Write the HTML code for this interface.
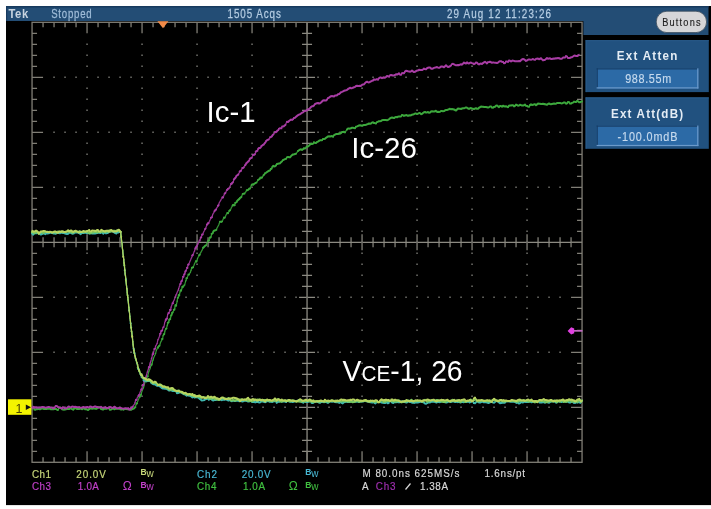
<!DOCTYPE html>
<html><head><meta charset="utf-8"><title>Scope</title>
<style>html,body{margin:0;padding:0;background:#fff;overflow:hidden}svg{display:block}</style>
</head><body>
<svg width="711" height="509" viewBox="0 0 711 509" font-family="Liberation Sans, Arial, sans-serif">
<rect width="711" height="509" fill="#ffffff"/>
<rect x="6.0" y="6.0" width="705" height="499.1" fill="#000"/>
<!-- top bar -->
<path d="M6 6H708.5V35H583.4V21H6Z" fill="#234d75"/>
<rect x="6" y="6.0" width="702.5" height="1.5" fill="#173a5e"/><rect x="6" y="6.0" width="1.2" height="15" fill="#173a5e"/>
<text transform="translate(8.4 17.8) scale(0.9 1)" x="0" y="0" font-size="12.5" fill="#c8d4e0" font-weight="bold" textLength="22.00" lengthAdjust="spacing" >Tek</text>
<text transform="translate(51.2 17.8) scale(0.8 1)" x="0" y="0" font-size="12" fill="#9fbcd8" font-weight="normal" stroke="#9fbcd8" stroke-width="0.25" textLength="50.50" lengthAdjust="spacing" >Stopped</text>
<text transform="translate(227.6 17.9) scale(0.82 1)" x="0" y="0" font-size="12" fill="#b4cce2" font-weight="normal" stroke="#b4cce2" stroke-width="0.25" textLength="64.88" lengthAdjust="spacing" >1505 Acqs</text>
<text transform="translate(447 17.8) scale(0.82 1)" x="0" y="0" font-size="12" fill="#b4cce2" font-weight="normal" stroke="#b4cce2" stroke-width="0.25" textLength="126.83" lengthAdjust="spacing" >29 Aug 12 11:23:26</text>
<!-- Buttons pill -->
<rect x="656.2" y="11.2" width="50.4" height="21.4" rx="10.7" fill="#d6d6d8" stroke="#3a4a5a" stroke-width="0.8"/>
<text transform="translate(662.2 26.4) scale(0.8 1)" x="0" y="0" font-size="11.5" fill="#1e1e1e" font-weight="normal" stroke="#1e1e1e" stroke-width="0.15" textLength="48.00" lengthAdjust="spacing" >Buttons</text>
<!-- panels -->
<rect x="585.6" y="40.2" width="123.2" height="51.9" fill="#21517f"/>
<rect x="585.6" y="40.2" width="123.2" height="1" fill="#2a5c8c"/>
<rect x="585.6" y="40.2" width="1" height="51.9" fill="#2a5c8c"/>
<text transform="translate(616.8 60.2) scale(0.86 1)" x="0" y="0" font-size="13.5" fill="#e4ecf4" font-weight="bold" textLength="70.47" lengthAdjust="spacing" >Ext Atten</text>
<rect x="596.6" y="68.3" width="101.8" height="20.2" fill="#2c6aa6"/>
<rect x="596.6" y="68.3" width="101.8" height="1.2" fill="#173e66"/>
<rect x="596.6" y="68.3" width="1.2" height="20.2" fill="#173e66"/>
<rect x="596.6" y="87.3" width="101.8" height="1.2" fill="#6b9acb"/>
<rect x="697.2" y="68.3" width="1.2" height="20.2" fill="#6b9acb"/>
<text transform="translate(625.2 83.2) scale(0.8 1)" x="0" y="0" font-size="13.5" fill="#c6daee" font-weight="normal" stroke="#c6daee" stroke-width="0.2" textLength="57.50" lengthAdjust="spacing" >988.55m</text>
<rect x="585.6" y="97.4" width="123.2" height="51.4" fill="#21517f"/>
<rect x="585.6" y="97.4" width="123.2" height="1" fill="#2a5c8c"/>
<rect x="585.6" y="97.4" width="1" height="51.4" fill="#2a5c8c"/>
<text transform="translate(611 117.7) scale(0.86 1)" x="0" y="0" font-size="13.5" fill="#e4ecf4" font-weight="bold" textLength="83.84" lengthAdjust="spacing" >Ext Att(dB)</text>
<rect x="596.6" y="125.5" width="101.8" height="20.6" fill="#2c6aa6"/>
<rect x="596.6" y="125.5" width="101.8" height="1.2" fill="#173e66"/>
<rect x="596.6" y="125.5" width="1.2" height="20.6" fill="#173e66"/>
<rect x="596.6" y="144.9" width="101.8" height="1.2" fill="#6b9acb"/>
<rect x="697.2" y="125.5" width="1.2" height="20.6" fill="#6b9acb"/>
<text transform="translate(617.6 140.7) scale(0.8 1)" x="0" y="0" font-size="13.5" fill="#c6daee" font-weight="normal" stroke="#c6daee" stroke-width="0.2" textLength="74.75" lengthAdjust="spacing" >-100.0mdB</text>
<!-- graticule -->
<rect x="32.05" y="22.3" width="550.0" height="440.0" fill="none" stroke="#807e76" stroke-width="1.3"/>
<line x1="32.05" y1="242.3" x2="582.05" y2="242.3" stroke="#8c8a82" stroke-width="1.3"/>
<line x1="307.05" y1="22.3" x2="307.05" y2="462.3" stroke="#8c8a82" stroke-width="1.3"/>
<path d="M43.05 237.3v10M54.05 237.3v10M65.05 237.3v10M76.05 237.3v10M87.05 234.3v16M98.05 237.3v10M109.05 237.3v10M120.05 237.3v10M131.05 237.3v10M142.05 234.3v16M153.05 237.3v10M164.05 237.3v10M175.05 237.3v10M186.05 237.3v10M197.05 234.3v16M208.05 237.3v10M219.05 237.3v10M230.05 237.3v10M241.05 237.3v10M252.05 234.3v16M263.05 237.3v10M274.05 237.3v10M285.05 237.3v10M296.05 237.3v10M318.05 237.3v10M329.05 237.3v10M340.05 237.3v10M351.05 237.3v10M362.05 234.3v16M373.05 237.3v10M384.05 237.3v10M395.05 237.3v10M406.05 237.3v10M417.05 234.3v16M428.05 237.3v10M439.05 237.3v10M450.05 237.3v10M461.05 237.3v10M472.05 234.3v16M483.05 237.3v10M494.05 237.3v10M505.05 237.3v10M516.05 237.3v10M527.05 234.3v16M538.05 237.3v10M549.05 237.3v10M560.05 237.3v10M571.05 237.3v10M302.05 33.30h10M302.05 44.30h10M302.05 55.30h10M302.05 66.30h10M299.05 77.30h16M302.05 88.30h10M302.05 99.30h10M302.05 110.30h10M302.05 121.30h10M299.05 132.30h16M302.05 143.30h10M302.05 154.30h10M302.05 165.30h10M302.05 176.30h10M299.05 187.30h16M302.05 198.30h10M302.05 209.30h10M302.05 220.30h10M302.05 231.30h10M302.05 253.30h10M302.05 264.30h10M302.05 275.30h10M302.05 286.30h10M299.05 297.30h16M302.05 308.30h10M302.05 319.30h10M302.05 330.30h10M302.05 341.30h10M299.05 352.30h16M302.05 363.30h10M302.05 374.30h10M302.05 385.30h10M302.05 396.30h10M299.05 407.30h16M302.05 418.30h10M302.05 429.30h10M302.05 440.30h10M302.05 451.30h10" stroke="#8c8a82" stroke-width="1.2" fill="none"/>
<path d="M43.05 22.3v5M43.05 462.3v-5M54.05 22.3v5M54.05 462.3v-5M65.05 22.3v5M65.05 462.3v-5M76.05 22.3v5M76.05 462.3v-5M87.05 22.3v11M87.05 462.3v-11M98.05 22.3v5M98.05 462.3v-5M109.05 22.3v5M109.05 462.3v-5M120.05 22.3v5M120.05 462.3v-5M131.05 22.3v5M131.05 462.3v-5M142.05 22.3v11M142.05 462.3v-11M153.05 22.3v5M153.05 462.3v-5M164.05 22.3v5M164.05 462.3v-5M175.05 22.3v5M175.05 462.3v-5M186.05 22.3v5M186.05 462.3v-5M197.05 22.3v11M197.05 462.3v-11M208.05 22.3v5M208.05 462.3v-5M219.05 22.3v5M219.05 462.3v-5M230.05 22.3v5M230.05 462.3v-5M241.05 22.3v5M241.05 462.3v-5M252.05 22.3v11M252.05 462.3v-11M263.05 22.3v5M263.05 462.3v-5M274.05 22.3v5M274.05 462.3v-5M285.05 22.3v5M285.05 462.3v-5M296.05 22.3v5M296.05 462.3v-5M307.05 22.3v11M307.05 462.3v-11M318.05 22.3v5M318.05 462.3v-5M329.05 22.3v5M329.05 462.3v-5M340.05 22.3v5M340.05 462.3v-5M351.05 22.3v5M351.05 462.3v-5M362.05 22.3v11M362.05 462.3v-11M373.05 22.3v5M373.05 462.3v-5M384.05 22.3v5M384.05 462.3v-5M395.05 22.3v5M395.05 462.3v-5M406.05 22.3v5M406.05 462.3v-5M417.05 22.3v11M417.05 462.3v-11M428.05 22.3v5M428.05 462.3v-5M439.05 22.3v5M439.05 462.3v-5M450.05 22.3v5M450.05 462.3v-5M461.05 22.3v5M461.05 462.3v-5M472.05 22.3v11M472.05 462.3v-11M483.05 22.3v5M483.05 462.3v-5M494.05 22.3v5M494.05 462.3v-5M505.05 22.3v5M505.05 462.3v-5M516.05 22.3v5M516.05 462.3v-5M527.05 22.3v11M527.05 462.3v-11M538.05 22.3v5M538.05 462.3v-5M549.05 22.3v5M549.05 462.3v-5M560.05 22.3v5M560.05 462.3v-5M571.05 22.3v5M571.05 462.3v-5M32.05 33.30h5M582.05 33.30h-5M32.05 44.30h5M582.05 44.30h-5M32.05 55.30h5M582.05 55.30h-5M32.05 66.30h5M582.05 66.30h-5M32.05 77.30h11M582.05 77.30h-11M32.05 88.30h5M582.05 88.30h-5M32.05 99.30h5M582.05 99.30h-5M32.05 110.30h5M582.05 110.30h-5M32.05 121.30h5M582.05 121.30h-5M32.05 132.30h11M582.05 132.30h-11M32.05 143.30h5M582.05 143.30h-5M32.05 154.30h5M582.05 154.30h-5M32.05 165.30h5M582.05 165.30h-5M32.05 176.30h5M582.05 176.30h-5M32.05 187.30h11M582.05 187.30h-11M32.05 198.30h5M582.05 198.30h-5M32.05 209.30h5M582.05 209.30h-5M32.05 220.30h5M582.05 220.30h-5M32.05 231.30h5M582.05 231.30h-5M32.05 242.30h11M582.05 242.30h-11M32.05 253.30h5M582.05 253.30h-5M32.05 264.30h5M582.05 264.30h-5M32.05 275.30h5M582.05 275.30h-5M32.05 286.30h5M582.05 286.30h-5M32.05 297.30h11M582.05 297.30h-11M32.05 308.30h5M582.05 308.30h-5M32.05 319.30h5M582.05 319.30h-5M32.05 330.30h5M582.05 330.30h-5M32.05 341.30h5M582.05 341.30h-5M32.05 352.30h11M582.05 352.30h-11M32.05 363.30h5M582.05 363.30h-5M32.05 374.30h5M582.05 374.30h-5M32.05 385.30h5M582.05 385.30h-5M32.05 396.30h5M582.05 396.30h-5M32.05 407.30h11M582.05 407.30h-11M32.05 418.30h5M582.05 418.30h-5M32.05 429.30h5M582.05 429.30h-5M32.05 440.30h5M582.05 440.30h-5M32.05 451.30h5M582.05 451.30h-5" stroke="#807e76" stroke-width="1.3" fill="none"/>
<path d="M86.25 43.50h1.6v1.6h-1.6zM86.25 54.50h1.6v1.6h-1.6zM86.25 65.50h1.6v1.6h-1.6zM86.25 76.50h1.6v1.6h-1.6zM86.25 87.50h1.6v1.6h-1.6zM86.25 98.50h1.6v1.6h-1.6zM86.25 109.50h1.6v1.6h-1.6zM86.25 120.50h1.6v1.6h-1.6zM86.25 131.50h1.6v1.6h-1.6zM86.25 142.50h1.6v1.6h-1.6zM86.25 153.50h1.6v1.6h-1.6zM86.25 164.50h1.6v1.6h-1.6zM86.25 175.50h1.6v1.6h-1.6zM86.25 186.50h1.6v1.6h-1.6zM86.25 197.50h1.6v1.6h-1.6zM86.25 208.50h1.6v1.6h-1.6zM86.25 219.50h1.6v1.6h-1.6zM86.25 230.50h1.6v1.6h-1.6zM86.25 241.50h1.6v1.6h-1.6zM86.25 252.50h1.6v1.6h-1.6zM86.25 263.50h1.6v1.6h-1.6zM86.25 274.50h1.6v1.6h-1.6zM86.25 285.50h1.6v1.6h-1.6zM86.25 296.50h1.6v1.6h-1.6zM86.25 307.50h1.6v1.6h-1.6zM86.25 318.50h1.6v1.6h-1.6zM86.25 329.50h1.6v1.6h-1.6zM86.25 340.50h1.6v1.6h-1.6zM86.25 351.50h1.6v1.6h-1.6zM86.25 362.50h1.6v1.6h-1.6zM86.25 373.50h1.6v1.6h-1.6zM86.25 384.50h1.6v1.6h-1.6zM86.25 395.50h1.6v1.6h-1.6zM86.25 406.50h1.6v1.6h-1.6zM86.25 417.50h1.6v1.6h-1.6zM86.25 428.50h1.6v1.6h-1.6zM86.25 439.50h1.6v1.6h-1.6zM141.25 43.50h1.6v1.6h-1.6zM141.25 54.50h1.6v1.6h-1.6zM141.25 65.50h1.6v1.6h-1.6zM141.25 76.50h1.6v1.6h-1.6zM141.25 87.50h1.6v1.6h-1.6zM141.25 98.50h1.6v1.6h-1.6zM141.25 109.50h1.6v1.6h-1.6zM141.25 120.50h1.6v1.6h-1.6zM141.25 131.50h1.6v1.6h-1.6zM141.25 142.50h1.6v1.6h-1.6zM141.25 153.50h1.6v1.6h-1.6zM141.25 164.50h1.6v1.6h-1.6zM141.25 175.50h1.6v1.6h-1.6zM141.25 186.50h1.6v1.6h-1.6zM141.25 197.50h1.6v1.6h-1.6zM141.25 208.50h1.6v1.6h-1.6zM141.25 219.50h1.6v1.6h-1.6zM141.25 230.50h1.6v1.6h-1.6zM141.25 241.50h1.6v1.6h-1.6zM141.25 252.50h1.6v1.6h-1.6zM141.25 263.50h1.6v1.6h-1.6zM141.25 274.50h1.6v1.6h-1.6zM141.25 285.50h1.6v1.6h-1.6zM141.25 296.50h1.6v1.6h-1.6zM141.25 307.50h1.6v1.6h-1.6zM141.25 318.50h1.6v1.6h-1.6zM141.25 329.50h1.6v1.6h-1.6zM141.25 340.50h1.6v1.6h-1.6zM141.25 351.50h1.6v1.6h-1.6zM141.25 362.50h1.6v1.6h-1.6zM141.25 373.50h1.6v1.6h-1.6zM141.25 384.50h1.6v1.6h-1.6zM141.25 395.50h1.6v1.6h-1.6zM141.25 406.50h1.6v1.6h-1.6zM141.25 417.50h1.6v1.6h-1.6zM141.25 428.50h1.6v1.6h-1.6zM141.25 439.50h1.6v1.6h-1.6zM196.25 43.50h1.6v1.6h-1.6zM196.25 54.50h1.6v1.6h-1.6zM196.25 65.50h1.6v1.6h-1.6zM196.25 76.50h1.6v1.6h-1.6zM196.25 87.50h1.6v1.6h-1.6zM196.25 98.50h1.6v1.6h-1.6zM196.25 109.50h1.6v1.6h-1.6zM196.25 120.50h1.6v1.6h-1.6zM196.25 131.50h1.6v1.6h-1.6zM196.25 142.50h1.6v1.6h-1.6zM196.25 153.50h1.6v1.6h-1.6zM196.25 164.50h1.6v1.6h-1.6zM196.25 175.50h1.6v1.6h-1.6zM196.25 186.50h1.6v1.6h-1.6zM196.25 197.50h1.6v1.6h-1.6zM196.25 208.50h1.6v1.6h-1.6zM196.25 219.50h1.6v1.6h-1.6zM196.25 230.50h1.6v1.6h-1.6zM196.25 241.50h1.6v1.6h-1.6zM196.25 252.50h1.6v1.6h-1.6zM196.25 263.50h1.6v1.6h-1.6zM196.25 274.50h1.6v1.6h-1.6zM196.25 285.50h1.6v1.6h-1.6zM196.25 296.50h1.6v1.6h-1.6zM196.25 307.50h1.6v1.6h-1.6zM196.25 318.50h1.6v1.6h-1.6zM196.25 329.50h1.6v1.6h-1.6zM196.25 340.50h1.6v1.6h-1.6zM196.25 351.50h1.6v1.6h-1.6zM196.25 362.50h1.6v1.6h-1.6zM196.25 373.50h1.6v1.6h-1.6zM196.25 384.50h1.6v1.6h-1.6zM196.25 395.50h1.6v1.6h-1.6zM196.25 406.50h1.6v1.6h-1.6zM196.25 417.50h1.6v1.6h-1.6zM196.25 428.50h1.6v1.6h-1.6zM196.25 439.50h1.6v1.6h-1.6zM251.25 43.50h1.6v1.6h-1.6zM251.25 54.50h1.6v1.6h-1.6zM251.25 65.50h1.6v1.6h-1.6zM251.25 76.50h1.6v1.6h-1.6zM251.25 87.50h1.6v1.6h-1.6zM251.25 98.50h1.6v1.6h-1.6zM251.25 109.50h1.6v1.6h-1.6zM251.25 120.50h1.6v1.6h-1.6zM251.25 131.50h1.6v1.6h-1.6zM251.25 142.50h1.6v1.6h-1.6zM251.25 153.50h1.6v1.6h-1.6zM251.25 164.50h1.6v1.6h-1.6zM251.25 175.50h1.6v1.6h-1.6zM251.25 186.50h1.6v1.6h-1.6zM251.25 197.50h1.6v1.6h-1.6zM251.25 208.50h1.6v1.6h-1.6zM251.25 219.50h1.6v1.6h-1.6zM251.25 230.50h1.6v1.6h-1.6zM251.25 241.50h1.6v1.6h-1.6zM251.25 252.50h1.6v1.6h-1.6zM251.25 263.50h1.6v1.6h-1.6zM251.25 274.50h1.6v1.6h-1.6zM251.25 285.50h1.6v1.6h-1.6zM251.25 296.50h1.6v1.6h-1.6zM251.25 307.50h1.6v1.6h-1.6zM251.25 318.50h1.6v1.6h-1.6zM251.25 329.50h1.6v1.6h-1.6zM251.25 340.50h1.6v1.6h-1.6zM251.25 351.50h1.6v1.6h-1.6zM251.25 362.50h1.6v1.6h-1.6zM251.25 373.50h1.6v1.6h-1.6zM251.25 384.50h1.6v1.6h-1.6zM251.25 395.50h1.6v1.6h-1.6zM251.25 406.50h1.6v1.6h-1.6zM251.25 417.50h1.6v1.6h-1.6zM251.25 428.50h1.6v1.6h-1.6zM251.25 439.50h1.6v1.6h-1.6zM361.25 43.50h1.6v1.6h-1.6zM361.25 54.50h1.6v1.6h-1.6zM361.25 65.50h1.6v1.6h-1.6zM361.25 76.50h1.6v1.6h-1.6zM361.25 87.50h1.6v1.6h-1.6zM361.25 98.50h1.6v1.6h-1.6zM361.25 109.50h1.6v1.6h-1.6zM361.25 120.50h1.6v1.6h-1.6zM361.25 131.50h1.6v1.6h-1.6zM361.25 142.50h1.6v1.6h-1.6zM361.25 153.50h1.6v1.6h-1.6zM361.25 164.50h1.6v1.6h-1.6zM361.25 175.50h1.6v1.6h-1.6zM361.25 186.50h1.6v1.6h-1.6zM361.25 197.50h1.6v1.6h-1.6zM361.25 208.50h1.6v1.6h-1.6zM361.25 219.50h1.6v1.6h-1.6zM361.25 230.50h1.6v1.6h-1.6zM361.25 241.50h1.6v1.6h-1.6zM361.25 252.50h1.6v1.6h-1.6zM361.25 263.50h1.6v1.6h-1.6zM361.25 274.50h1.6v1.6h-1.6zM361.25 285.50h1.6v1.6h-1.6zM361.25 296.50h1.6v1.6h-1.6zM361.25 307.50h1.6v1.6h-1.6zM361.25 318.50h1.6v1.6h-1.6zM361.25 329.50h1.6v1.6h-1.6zM361.25 340.50h1.6v1.6h-1.6zM361.25 351.50h1.6v1.6h-1.6zM361.25 362.50h1.6v1.6h-1.6zM361.25 373.50h1.6v1.6h-1.6zM361.25 384.50h1.6v1.6h-1.6zM361.25 395.50h1.6v1.6h-1.6zM361.25 406.50h1.6v1.6h-1.6zM361.25 417.50h1.6v1.6h-1.6zM361.25 428.50h1.6v1.6h-1.6zM361.25 439.50h1.6v1.6h-1.6zM416.25 43.50h1.6v1.6h-1.6zM416.25 54.50h1.6v1.6h-1.6zM416.25 65.50h1.6v1.6h-1.6zM416.25 76.50h1.6v1.6h-1.6zM416.25 87.50h1.6v1.6h-1.6zM416.25 98.50h1.6v1.6h-1.6zM416.25 109.50h1.6v1.6h-1.6zM416.25 120.50h1.6v1.6h-1.6zM416.25 131.50h1.6v1.6h-1.6zM416.25 142.50h1.6v1.6h-1.6zM416.25 153.50h1.6v1.6h-1.6zM416.25 164.50h1.6v1.6h-1.6zM416.25 175.50h1.6v1.6h-1.6zM416.25 186.50h1.6v1.6h-1.6zM416.25 197.50h1.6v1.6h-1.6zM416.25 208.50h1.6v1.6h-1.6zM416.25 219.50h1.6v1.6h-1.6zM416.25 230.50h1.6v1.6h-1.6zM416.25 241.50h1.6v1.6h-1.6zM416.25 252.50h1.6v1.6h-1.6zM416.25 263.50h1.6v1.6h-1.6zM416.25 274.50h1.6v1.6h-1.6zM416.25 285.50h1.6v1.6h-1.6zM416.25 296.50h1.6v1.6h-1.6zM416.25 307.50h1.6v1.6h-1.6zM416.25 318.50h1.6v1.6h-1.6zM416.25 329.50h1.6v1.6h-1.6zM416.25 340.50h1.6v1.6h-1.6zM416.25 351.50h1.6v1.6h-1.6zM416.25 362.50h1.6v1.6h-1.6zM416.25 373.50h1.6v1.6h-1.6zM416.25 384.50h1.6v1.6h-1.6zM416.25 395.50h1.6v1.6h-1.6zM416.25 406.50h1.6v1.6h-1.6zM416.25 417.50h1.6v1.6h-1.6zM416.25 428.50h1.6v1.6h-1.6zM416.25 439.50h1.6v1.6h-1.6zM471.25 43.50h1.6v1.6h-1.6zM471.25 54.50h1.6v1.6h-1.6zM471.25 65.50h1.6v1.6h-1.6zM471.25 76.50h1.6v1.6h-1.6zM471.25 87.50h1.6v1.6h-1.6zM471.25 98.50h1.6v1.6h-1.6zM471.25 109.50h1.6v1.6h-1.6zM471.25 120.50h1.6v1.6h-1.6zM471.25 131.50h1.6v1.6h-1.6zM471.25 142.50h1.6v1.6h-1.6zM471.25 153.50h1.6v1.6h-1.6zM471.25 164.50h1.6v1.6h-1.6zM471.25 175.50h1.6v1.6h-1.6zM471.25 186.50h1.6v1.6h-1.6zM471.25 197.50h1.6v1.6h-1.6zM471.25 208.50h1.6v1.6h-1.6zM471.25 219.50h1.6v1.6h-1.6zM471.25 230.50h1.6v1.6h-1.6zM471.25 241.50h1.6v1.6h-1.6zM471.25 252.50h1.6v1.6h-1.6zM471.25 263.50h1.6v1.6h-1.6zM471.25 274.50h1.6v1.6h-1.6zM471.25 285.50h1.6v1.6h-1.6zM471.25 296.50h1.6v1.6h-1.6zM471.25 307.50h1.6v1.6h-1.6zM471.25 318.50h1.6v1.6h-1.6zM471.25 329.50h1.6v1.6h-1.6zM471.25 340.50h1.6v1.6h-1.6zM471.25 351.50h1.6v1.6h-1.6zM471.25 362.50h1.6v1.6h-1.6zM471.25 373.50h1.6v1.6h-1.6zM471.25 384.50h1.6v1.6h-1.6zM471.25 395.50h1.6v1.6h-1.6zM471.25 406.50h1.6v1.6h-1.6zM471.25 417.50h1.6v1.6h-1.6zM471.25 428.50h1.6v1.6h-1.6zM471.25 439.50h1.6v1.6h-1.6zM526.25 43.50h1.6v1.6h-1.6zM526.25 54.50h1.6v1.6h-1.6zM526.25 65.50h1.6v1.6h-1.6zM526.25 76.50h1.6v1.6h-1.6zM526.25 87.50h1.6v1.6h-1.6zM526.25 98.50h1.6v1.6h-1.6zM526.25 109.50h1.6v1.6h-1.6zM526.25 120.50h1.6v1.6h-1.6zM526.25 131.50h1.6v1.6h-1.6zM526.25 142.50h1.6v1.6h-1.6zM526.25 153.50h1.6v1.6h-1.6zM526.25 164.50h1.6v1.6h-1.6zM526.25 175.50h1.6v1.6h-1.6zM526.25 186.50h1.6v1.6h-1.6zM526.25 197.50h1.6v1.6h-1.6zM526.25 208.50h1.6v1.6h-1.6zM526.25 219.50h1.6v1.6h-1.6zM526.25 230.50h1.6v1.6h-1.6zM526.25 241.50h1.6v1.6h-1.6zM526.25 252.50h1.6v1.6h-1.6zM526.25 263.50h1.6v1.6h-1.6zM526.25 274.50h1.6v1.6h-1.6zM526.25 285.50h1.6v1.6h-1.6zM526.25 296.50h1.6v1.6h-1.6zM526.25 307.50h1.6v1.6h-1.6zM526.25 318.50h1.6v1.6h-1.6zM526.25 329.50h1.6v1.6h-1.6zM526.25 340.50h1.6v1.6h-1.6zM526.25 351.50h1.6v1.6h-1.6zM526.25 362.50h1.6v1.6h-1.6zM526.25 373.50h1.6v1.6h-1.6zM526.25 384.50h1.6v1.6h-1.6zM526.25 395.50h1.6v1.6h-1.6zM526.25 406.50h1.6v1.6h-1.6zM526.25 417.50h1.6v1.6h-1.6zM526.25 428.50h1.6v1.6h-1.6zM526.25 439.50h1.6v1.6h-1.6zM53.25 76.50h1.6v1.6h-1.6zM64.25 76.50h1.6v1.6h-1.6zM75.25 76.50h1.6v1.6h-1.6zM86.25 76.50h1.6v1.6h-1.6zM97.25 76.50h1.6v1.6h-1.6zM108.25 76.50h1.6v1.6h-1.6zM119.25 76.50h1.6v1.6h-1.6zM130.25 76.50h1.6v1.6h-1.6zM141.25 76.50h1.6v1.6h-1.6zM152.25 76.50h1.6v1.6h-1.6zM163.25 76.50h1.6v1.6h-1.6zM174.25 76.50h1.6v1.6h-1.6zM185.25 76.50h1.6v1.6h-1.6zM196.25 76.50h1.6v1.6h-1.6zM207.25 76.50h1.6v1.6h-1.6zM218.25 76.50h1.6v1.6h-1.6zM229.25 76.50h1.6v1.6h-1.6zM240.25 76.50h1.6v1.6h-1.6zM251.25 76.50h1.6v1.6h-1.6zM262.25 76.50h1.6v1.6h-1.6zM273.25 76.50h1.6v1.6h-1.6zM284.25 76.50h1.6v1.6h-1.6zM295.25 76.50h1.6v1.6h-1.6zM306.25 76.50h1.6v1.6h-1.6zM317.25 76.50h1.6v1.6h-1.6zM328.25 76.50h1.6v1.6h-1.6zM339.25 76.50h1.6v1.6h-1.6zM350.25 76.50h1.6v1.6h-1.6zM361.25 76.50h1.6v1.6h-1.6zM372.25 76.50h1.6v1.6h-1.6zM383.25 76.50h1.6v1.6h-1.6zM394.25 76.50h1.6v1.6h-1.6zM405.25 76.50h1.6v1.6h-1.6zM416.25 76.50h1.6v1.6h-1.6zM427.25 76.50h1.6v1.6h-1.6zM438.25 76.50h1.6v1.6h-1.6zM449.25 76.50h1.6v1.6h-1.6zM460.25 76.50h1.6v1.6h-1.6zM471.25 76.50h1.6v1.6h-1.6zM482.25 76.50h1.6v1.6h-1.6zM493.25 76.50h1.6v1.6h-1.6zM504.25 76.50h1.6v1.6h-1.6zM515.25 76.50h1.6v1.6h-1.6zM526.25 76.50h1.6v1.6h-1.6zM537.25 76.50h1.6v1.6h-1.6zM548.25 76.50h1.6v1.6h-1.6zM559.25 76.50h1.6v1.6h-1.6zM53.25 131.50h1.6v1.6h-1.6zM64.25 131.50h1.6v1.6h-1.6zM75.25 131.50h1.6v1.6h-1.6zM86.25 131.50h1.6v1.6h-1.6zM97.25 131.50h1.6v1.6h-1.6zM108.25 131.50h1.6v1.6h-1.6zM119.25 131.50h1.6v1.6h-1.6zM130.25 131.50h1.6v1.6h-1.6zM141.25 131.50h1.6v1.6h-1.6zM152.25 131.50h1.6v1.6h-1.6zM163.25 131.50h1.6v1.6h-1.6zM174.25 131.50h1.6v1.6h-1.6zM185.25 131.50h1.6v1.6h-1.6zM196.25 131.50h1.6v1.6h-1.6zM207.25 131.50h1.6v1.6h-1.6zM218.25 131.50h1.6v1.6h-1.6zM229.25 131.50h1.6v1.6h-1.6zM240.25 131.50h1.6v1.6h-1.6zM251.25 131.50h1.6v1.6h-1.6zM262.25 131.50h1.6v1.6h-1.6zM273.25 131.50h1.6v1.6h-1.6zM284.25 131.50h1.6v1.6h-1.6zM295.25 131.50h1.6v1.6h-1.6zM306.25 131.50h1.6v1.6h-1.6zM317.25 131.50h1.6v1.6h-1.6zM328.25 131.50h1.6v1.6h-1.6zM339.25 131.50h1.6v1.6h-1.6zM350.25 131.50h1.6v1.6h-1.6zM361.25 131.50h1.6v1.6h-1.6zM372.25 131.50h1.6v1.6h-1.6zM383.25 131.50h1.6v1.6h-1.6zM394.25 131.50h1.6v1.6h-1.6zM405.25 131.50h1.6v1.6h-1.6zM416.25 131.50h1.6v1.6h-1.6zM427.25 131.50h1.6v1.6h-1.6zM438.25 131.50h1.6v1.6h-1.6zM449.25 131.50h1.6v1.6h-1.6zM460.25 131.50h1.6v1.6h-1.6zM471.25 131.50h1.6v1.6h-1.6zM482.25 131.50h1.6v1.6h-1.6zM493.25 131.50h1.6v1.6h-1.6zM504.25 131.50h1.6v1.6h-1.6zM515.25 131.50h1.6v1.6h-1.6zM526.25 131.50h1.6v1.6h-1.6zM537.25 131.50h1.6v1.6h-1.6zM548.25 131.50h1.6v1.6h-1.6zM559.25 131.50h1.6v1.6h-1.6zM53.25 186.50h1.6v1.6h-1.6zM64.25 186.50h1.6v1.6h-1.6zM75.25 186.50h1.6v1.6h-1.6zM86.25 186.50h1.6v1.6h-1.6zM97.25 186.50h1.6v1.6h-1.6zM108.25 186.50h1.6v1.6h-1.6zM119.25 186.50h1.6v1.6h-1.6zM130.25 186.50h1.6v1.6h-1.6zM141.25 186.50h1.6v1.6h-1.6zM152.25 186.50h1.6v1.6h-1.6zM163.25 186.50h1.6v1.6h-1.6zM174.25 186.50h1.6v1.6h-1.6zM185.25 186.50h1.6v1.6h-1.6zM196.25 186.50h1.6v1.6h-1.6zM207.25 186.50h1.6v1.6h-1.6zM218.25 186.50h1.6v1.6h-1.6zM229.25 186.50h1.6v1.6h-1.6zM240.25 186.50h1.6v1.6h-1.6zM251.25 186.50h1.6v1.6h-1.6zM262.25 186.50h1.6v1.6h-1.6zM273.25 186.50h1.6v1.6h-1.6zM284.25 186.50h1.6v1.6h-1.6zM295.25 186.50h1.6v1.6h-1.6zM306.25 186.50h1.6v1.6h-1.6zM317.25 186.50h1.6v1.6h-1.6zM328.25 186.50h1.6v1.6h-1.6zM339.25 186.50h1.6v1.6h-1.6zM350.25 186.50h1.6v1.6h-1.6zM361.25 186.50h1.6v1.6h-1.6zM372.25 186.50h1.6v1.6h-1.6zM383.25 186.50h1.6v1.6h-1.6zM394.25 186.50h1.6v1.6h-1.6zM405.25 186.50h1.6v1.6h-1.6zM416.25 186.50h1.6v1.6h-1.6zM427.25 186.50h1.6v1.6h-1.6zM438.25 186.50h1.6v1.6h-1.6zM449.25 186.50h1.6v1.6h-1.6zM460.25 186.50h1.6v1.6h-1.6zM471.25 186.50h1.6v1.6h-1.6zM482.25 186.50h1.6v1.6h-1.6zM493.25 186.50h1.6v1.6h-1.6zM504.25 186.50h1.6v1.6h-1.6zM515.25 186.50h1.6v1.6h-1.6zM526.25 186.50h1.6v1.6h-1.6zM537.25 186.50h1.6v1.6h-1.6zM548.25 186.50h1.6v1.6h-1.6zM559.25 186.50h1.6v1.6h-1.6zM53.25 296.50h1.6v1.6h-1.6zM64.25 296.50h1.6v1.6h-1.6zM75.25 296.50h1.6v1.6h-1.6zM86.25 296.50h1.6v1.6h-1.6zM97.25 296.50h1.6v1.6h-1.6zM108.25 296.50h1.6v1.6h-1.6zM119.25 296.50h1.6v1.6h-1.6zM130.25 296.50h1.6v1.6h-1.6zM141.25 296.50h1.6v1.6h-1.6zM152.25 296.50h1.6v1.6h-1.6zM163.25 296.50h1.6v1.6h-1.6zM174.25 296.50h1.6v1.6h-1.6zM185.25 296.50h1.6v1.6h-1.6zM196.25 296.50h1.6v1.6h-1.6zM207.25 296.50h1.6v1.6h-1.6zM218.25 296.50h1.6v1.6h-1.6zM229.25 296.50h1.6v1.6h-1.6zM240.25 296.50h1.6v1.6h-1.6zM251.25 296.50h1.6v1.6h-1.6zM262.25 296.50h1.6v1.6h-1.6zM273.25 296.50h1.6v1.6h-1.6zM284.25 296.50h1.6v1.6h-1.6zM295.25 296.50h1.6v1.6h-1.6zM306.25 296.50h1.6v1.6h-1.6zM317.25 296.50h1.6v1.6h-1.6zM328.25 296.50h1.6v1.6h-1.6zM339.25 296.50h1.6v1.6h-1.6zM350.25 296.50h1.6v1.6h-1.6zM361.25 296.50h1.6v1.6h-1.6zM372.25 296.50h1.6v1.6h-1.6zM383.25 296.50h1.6v1.6h-1.6zM394.25 296.50h1.6v1.6h-1.6zM405.25 296.50h1.6v1.6h-1.6zM416.25 296.50h1.6v1.6h-1.6zM427.25 296.50h1.6v1.6h-1.6zM438.25 296.50h1.6v1.6h-1.6zM449.25 296.50h1.6v1.6h-1.6zM460.25 296.50h1.6v1.6h-1.6zM471.25 296.50h1.6v1.6h-1.6zM482.25 296.50h1.6v1.6h-1.6zM493.25 296.50h1.6v1.6h-1.6zM504.25 296.50h1.6v1.6h-1.6zM515.25 296.50h1.6v1.6h-1.6zM526.25 296.50h1.6v1.6h-1.6zM537.25 296.50h1.6v1.6h-1.6zM548.25 296.50h1.6v1.6h-1.6zM559.25 296.50h1.6v1.6h-1.6zM53.25 351.50h1.6v1.6h-1.6zM64.25 351.50h1.6v1.6h-1.6zM75.25 351.50h1.6v1.6h-1.6zM86.25 351.50h1.6v1.6h-1.6zM97.25 351.50h1.6v1.6h-1.6zM108.25 351.50h1.6v1.6h-1.6zM119.25 351.50h1.6v1.6h-1.6zM130.25 351.50h1.6v1.6h-1.6zM141.25 351.50h1.6v1.6h-1.6zM152.25 351.50h1.6v1.6h-1.6zM163.25 351.50h1.6v1.6h-1.6zM174.25 351.50h1.6v1.6h-1.6zM185.25 351.50h1.6v1.6h-1.6zM196.25 351.50h1.6v1.6h-1.6zM207.25 351.50h1.6v1.6h-1.6zM218.25 351.50h1.6v1.6h-1.6zM229.25 351.50h1.6v1.6h-1.6zM240.25 351.50h1.6v1.6h-1.6zM251.25 351.50h1.6v1.6h-1.6zM262.25 351.50h1.6v1.6h-1.6zM273.25 351.50h1.6v1.6h-1.6zM284.25 351.50h1.6v1.6h-1.6zM295.25 351.50h1.6v1.6h-1.6zM306.25 351.50h1.6v1.6h-1.6zM317.25 351.50h1.6v1.6h-1.6zM328.25 351.50h1.6v1.6h-1.6zM339.25 351.50h1.6v1.6h-1.6zM350.25 351.50h1.6v1.6h-1.6zM361.25 351.50h1.6v1.6h-1.6zM372.25 351.50h1.6v1.6h-1.6zM383.25 351.50h1.6v1.6h-1.6zM394.25 351.50h1.6v1.6h-1.6zM405.25 351.50h1.6v1.6h-1.6zM416.25 351.50h1.6v1.6h-1.6zM427.25 351.50h1.6v1.6h-1.6zM438.25 351.50h1.6v1.6h-1.6zM449.25 351.50h1.6v1.6h-1.6zM460.25 351.50h1.6v1.6h-1.6zM471.25 351.50h1.6v1.6h-1.6zM482.25 351.50h1.6v1.6h-1.6zM493.25 351.50h1.6v1.6h-1.6zM504.25 351.50h1.6v1.6h-1.6zM515.25 351.50h1.6v1.6h-1.6zM526.25 351.50h1.6v1.6h-1.6zM537.25 351.50h1.6v1.6h-1.6zM548.25 351.50h1.6v1.6h-1.6zM559.25 351.50h1.6v1.6h-1.6zM53.25 406.50h1.6v1.6h-1.6zM64.25 406.50h1.6v1.6h-1.6zM75.25 406.50h1.6v1.6h-1.6zM86.25 406.50h1.6v1.6h-1.6zM97.25 406.50h1.6v1.6h-1.6zM108.25 406.50h1.6v1.6h-1.6zM119.25 406.50h1.6v1.6h-1.6zM130.25 406.50h1.6v1.6h-1.6zM141.25 406.50h1.6v1.6h-1.6zM152.25 406.50h1.6v1.6h-1.6zM163.25 406.50h1.6v1.6h-1.6zM174.25 406.50h1.6v1.6h-1.6zM185.25 406.50h1.6v1.6h-1.6zM196.25 406.50h1.6v1.6h-1.6zM207.25 406.50h1.6v1.6h-1.6zM218.25 406.50h1.6v1.6h-1.6zM229.25 406.50h1.6v1.6h-1.6zM240.25 406.50h1.6v1.6h-1.6zM251.25 406.50h1.6v1.6h-1.6zM262.25 406.50h1.6v1.6h-1.6zM273.25 406.50h1.6v1.6h-1.6zM284.25 406.50h1.6v1.6h-1.6zM295.25 406.50h1.6v1.6h-1.6zM306.25 406.50h1.6v1.6h-1.6zM317.25 406.50h1.6v1.6h-1.6zM328.25 406.50h1.6v1.6h-1.6zM339.25 406.50h1.6v1.6h-1.6zM350.25 406.50h1.6v1.6h-1.6zM361.25 406.50h1.6v1.6h-1.6zM372.25 406.50h1.6v1.6h-1.6zM383.25 406.50h1.6v1.6h-1.6zM394.25 406.50h1.6v1.6h-1.6zM405.25 406.50h1.6v1.6h-1.6zM416.25 406.50h1.6v1.6h-1.6zM427.25 406.50h1.6v1.6h-1.6zM438.25 406.50h1.6v1.6h-1.6zM449.25 406.50h1.6v1.6h-1.6zM460.25 406.50h1.6v1.6h-1.6zM471.25 406.50h1.6v1.6h-1.6zM482.25 406.50h1.6v1.6h-1.6zM493.25 406.50h1.6v1.6h-1.6zM504.25 406.50h1.6v1.6h-1.6zM515.25 406.50h1.6v1.6h-1.6zM526.25 406.50h1.6v1.6h-1.6zM537.25 406.50h1.6v1.6h-1.6zM548.25 406.50h1.6v1.6h-1.6zM559.25 406.50h1.6v1.6h-1.6z" fill="#6a6a66"/>
<!-- trigger marker top -->
<path d="M157.4 21.3L168.4 21.3L163 28.2Z" fill="#f08a48"/>
<!-- traces -->
<defs><filter id="tb" x="-5%" y="-5%" width="110%" height="110%"><feGaussianBlur stdDeviation="0.6"/></filter></defs>
<g fill="none" stroke-linejoin="round" stroke-linecap="round" filter="url(#tb)">
<path d="M32.0 408.8L32.5 408.5L33.1 408.1L33.8 407.7M34.5 409.6L35.3 409.7L36.1 409.0L37.0 409.3L37.9 409.1L38.9 408.8L39.9 409.3L40.9 408.8L41.9 408.5L43.0 408.5L44.1 409.0L45.3 409.1L46.4 409.1L47.5 408.7L48.7 408.8L49.9 408.7L51.0 409.3L52.2 409.3L53.4 409.3L54.5 409.1L55.7 408.7L56.8 409.6L57.9 410.0M58.9 408.2L60.0 407.5L61.0 408.0L62.0 409.2L62.9 409.4L63.9 409.7L64.9 409.6L66.0 409.2L67.0 409.1L68.0 409.0L69.0 409.1L70.0 408.4L71.1 408.5L72.1 409.2L73.1 409.7L74.2 408.5L75.2 408.0L76.2 408.4L77.2 409.1L78.3 409.0L79.3 409.0L80.3 408.1L81.3 409.1L82.3 409.2L83.3 408.1L84.3 408.7L85.3 409.3L86.2 409.1L87.2 409.6L88.1 410.1L89.1 409.1L90.0 408.4L91.1 408.3L92.2 408.8L93.3 408.6L94.4 408.5L95.5 408.7L96.6 408.8L97.7 407.9L98.8 407.2L99.9 407.3M100.9 408.9L102.0 409.2L103.0 409.6L104.1 408.9L105.1 408.5L106.1 408.9L107.1 408.6L108.1 408.0L109.0 408.5M109.9 409.7L110.8 409.5L111.7 409.2L112.6 408.7L113.4 408.7L114.2 409.3L115.0 409.0L116.4 408.6L117.8 408.7L119.0 408.6L120.2 409.2L121.3 409.6L122.4 409.1L123.4 409.7L124.3 409.1L125.1 409.0L125.9 408.8L126.7 409.0L127.4 409.3L128.0 409.0L129.8 409.3L130.4 409.8L131.0 409.8L131.9 409.2L132.6 409.1L133.5 408.7L134.1 408.3L134.7 407.6L135.3 407.2M136.5 403.6L137.0 403.3M139.5 396.7L139.9 396.8M140.6 394.7L141.0 394.9M147.3 376.5L147.7 376.3M151.4 364.9L151.7 364.7M157.7 347.4L158.1 347.6M159.0 346.0L159.4 345.7M162.1 339.0L162.5 338.9M163.8 334.3L164.2 334.3M166.0 328.8L166.4 328.5M167.9 322.7L168.3 322.6L168.6 322.2M169.3 319.7L169.8 319.4L170.2 319.0M171.2 315.4L171.6 314.9M172.1 313.0L172.6 312.5M173.9 309.8L174.4 309.6M175.5 305.1L175.8 305.4L176.1 305.7M177.7 297.7L178.0 297.7M178.7 295.1L179.2 295.4M180.6 290.4L181.1 290.6M182.4 286.8L182.9 287.0M186.5 278.4L187.0 278.0M188.5 274.6L189.0 274.6M192.0 267.7L192.5 267.6L193.0 267.4M196.0 261.1L196.5 261.6M199.1 255.2L199.7 254.7M203.1 247.8L203.7 247.2L204.3 246.6L204.9 246.0L205.4 245.6L206.0 245.4M208.3 240.7L208.9 240.6M210.0 237.5L210.6 237.4M211.7 233.9L212.3 233.5L212.9 232.9M213.4 231.4L214.0 230.8L214.6 230.4L215.1 230.4L215.7 230.1L216.3 229.9M220.0 221.8L220.7 221.7L221.3 221.9L222.0 221.5M224.0 217.6L224.7 217.7M227.3 213.0L228.0 213.2M229.3 210.9L230.0 210.2M232.7 205.4L233.3 204.7L234.0 205.4L234.7 205.2M235.3 202.9L236.0 202.5L236.7 201.9M237.3 200.7L238.0 200.1M238.7 199.2L239.3 199.2M240.0 198.0L240.7 197.4L241.3 196.9M242.8 193.9L243.6 193.7L244.4 193.6M246.8 190.3L247.6 190.0L248.4 189.6L249.2 188.8L250.0 188.5M251.6 185.1L252.4 184.3L253.2 184.7L254.0 184.0L254.8 183.5L255.6 182.9L256.4 182.6M258.0 180.0L258.8 179.5L259.6 178.9M260.4 177.6L261.2 177.9L262.0 177.5M263.6 175.2L264.4 174.3M265.2 173.2L266.0 172.8L266.8 172.2L267.6 171.7L268.4 171.0L269.2 170.8L270.0 170.4M270.8 169.0L271.6 168.6M272.4 166.8L273.2 165.9L274.0 166.4L275.0 166.2L276.0 165.4M277.0 163.9L278.0 163.7L279.0 163.6L280.0 163.3L281.0 162.2L282.0 161.3M283.0 160.1L284.0 159.6L285.0 159.1L286.0 158.8M287.0 157.4L288.0 156.9L289.0 157.2L290.0 157.3L291.0 156.1L292.0 155.1L293.0 154.4L294.0 154.4L295.0 154.0L296.0 153.7M298.0 151.0L299.0 150.3L300.0 149.6L301.0 149.3L302.0 150.0L303.0 149.3L304.0 148.1L305.0 148.6L306.0 147.6L307.0 146.4L308.0 146.4L309.0 145.7L310.0 144.6L311.0 143.7L312.0 144.1L313.0 143.6M314.0 142.2L315.0 143.0L316.0 142.9L317.0 142.0L318.0 141.6L319.0 140.9L320.0 140.2L321.0 140.3L322.0 140.3M323.0 139.0L324.0 139.0L325.0 138.7L326.0 137.8L327.0 137.2L328.0 136.4L329.0 136.3L330.0 136.5L331.0 136.2L332.0 136.0L333.0 136.8M334.0 135.3L335.0 134.6L336.0 134.1L337.0 133.9L338.0 134.1L339.0 133.4L340.0 133.7L341.0 133.1L342.0 131.9L343.0 132.0L344.0 131.7L345.0 132.4M347.0 129.5L348.0 128.6L349.0 128.6L350.0 128.7L351.0 128.2L352.0 127.8L353.0 127.8L354.0 128.1L355.0 128.2M356.0 126.7L357.0 126.4L358.0 126.0L359.0 125.4L360.0 125.2L361.0 125.4L362.0 125.9L363.0 125.3L364.0 124.9L365.0 125.1L366.0 124.8L367.0 124.3L368.0 124.0L369.0 123.5L370.0 123.8L371.0 123.5L372.0 122.6L373.0 122.3L374.0 123.1L375.0 123.1L376.0 123.5M377.0 122.1L378.0 121.7L379.0 121.2L380.0 121.2L381.0 121.1L382.0 120.2L383.0 120.1L384.0 120.1L385.0 120.0L386.0 120.1L387.0 120.2L388.0 119.9L389.0 119.2L390.0 118.4L391.0 117.7L392.0 117.6L393.0 117.8L394.0 118.1L395.0 117.4L396.0 116.9L397.0 117.3L398.0 116.7L399.0 116.4L400.0 116.6L401.0 116.4M402.0 115.0L403.0 115.2L404.0 115.9L405.0 115.5L406.0 115.1L407.0 115.3L408.0 115.9L409.0 115.3L410.0 115.5L411.0 115.3L412.0 114.7L413.0 114.6L414.0 114.1L415.0 113.6L416.0 113.5L417.0 114.1L418.0 113.6L419.0 113.1L420.0 113.1L421.0 114.2L422.0 113.9L423.0 113.0L424.0 112.2L425.0 111.9L426.0 112.6L427.0 112.5L428.0 111.9L429.0 112.8L430.0 112.6L431.0 111.5L432.0 111.3L433.0 111.5L434.0 111.6L435.0 111.2L436.0 110.8L437.0 111.9L438.0 111.8L439.0 112.0L440.0 111.8L441.0 111.0L442.0 111.0L443.0 111.2L444.0 111.1L445.0 110.4L446.0 110.0L447.0 110.0L448.0 109.6L449.0 109.2L450.0 108.8L451.0 109.3L452.0 109.1L453.0 109.2L454.0 109.5L455.0 110.0L456.0 110.5L457.0 109.5L458.0 108.5L459.0 108.8L460.0 108.8L461.0 109.0L462.0 108.5L463.0 108.2L464.0 108.2L465.0 107.9L466.0 107.4L467.0 107.8L468.0 108.5L469.0 108.9L470.0 108.3L471.0 108.1L472.0 108.5L473.0 108.8L474.0 109.1L475.0 108.5L476.0 108.2L477.0 108.8L478.0 108.7L479.0 107.7L480.0 107.3L481.0 106.6L482.0 106.8L483.0 106.8L484.0 107.0L485.0 107.0L486.0 107.0L487.0 107.2L488.0 107.4L489.0 107.2L490.0 106.5L491.0 106.4M492.0 107.6L493.0 107.7L494.0 106.9L495.0 106.7L496.0 105.7L497.0 105.4L498.0 106.4L499.0 107.1L500.0 106.0L501.0 106.0L502.0 106.7L503.0 105.7L504.0 106.3L505.0 106.5L506.0 106.2L507.0 106.6L508.0 107.3M509.0 105.8L510.0 105.5L511.0 105.6L512.0 105.2L513.0 105.2L514.0 106.4L515.0 105.8L516.0 104.6L517.0 105.0L518.0 105.7L519.0 105.5L520.0 104.7L521.0 105.1L522.0 105.5L523.0 105.6L524.0 105.2L525.0 104.6M526.0 105.8L527.0 105.9L528.0 106.6L529.0 106.8M530.0 105.1L531.0 104.3L532.0 105.0L533.0 104.8L534.0 104.3L535.0 104.3L536.0 105.3L537.0 104.4L538.0 103.6L539.0 103.8L540.0 103.7L541.0 104.1L542.0 103.9L543.0 103.7L544.0 104.2L545.0 104.0L546.0 104.6L547.0 104.8L548.0 103.9L549.0 103.5L550.0 104.0L551.0 104.3L552.0 103.9L553.0 103.7L554.0 103.6L555.0 103.8L556.0 103.7L557.0 103.0L558.0 102.9L559.0 103.1L560.0 102.9L561.0 103.2L562.0 103.4L563.0 103.0L564.0 102.4L565.0 102.6L566.0 103.7L567.0 103.3M568.0 102.0L569.0 102.2M570.0 103.6L571.0 103.6L572.0 102.9L573.0 102.6L574.0 101.6L575.0 101.9L576.0 102.1L577.0 100.9L578.0 101.2L579.1 102.2L580.2 102.3L581.3 101.5L582.0 101.5" stroke="#3ca83c" stroke-width="2.0" stroke-opacity="1.0"/>
<path d="M33.8 407.7L34.5 409.6M57.9 410.0L58.9 408.2M99.9 407.3L100.9 408.9M109.0 408.5L109.9 409.7M135.3 407.2L135.9 405.1L136.5 403.6M137.0 403.3L137.5 401.6L138.0 400.8L138.5 399.4L139.0 398.3L139.5 396.7M139.9 396.8L140.2 395.7L140.6 394.7M141.0 394.9L141.3 393.8M142.1 390.7L142.5 389.8L142.8 389.2L143.1 388.7L143.5 387.8M143.8 386.1L144.1 384.9L144.5 383.8M144.8 382.4L145.2 381.7L145.6 381.1L146.0 380.6L146.3 379.8M146.6 378.1L147.0 377.3L147.3 376.5M148.8 371.6L149.2 370.6L149.5 370.0L149.9 369.0L150.3 367.9M150.6 366.3L151.0 365.9L151.4 364.9M152.1 363.3L152.4 362.2M152.8 360.4L153.1 359.7M153.5 358.4L153.8 357.4L154.2 356.7L154.5 355.7L154.9 355.1L155.2 354.5L155.6 353.4M156.4 350.1L156.8 349.4L157.2 348.6L157.7 347.4M158.1 347.6L158.5 346.7L159.0 346.0M159.4 345.7L159.9 344.8L160.3 343.3L160.8 341.8L161.3 341.2L161.8 340.1L162.1 339.0M163.1 335.7L163.5 335.2L163.8 334.3M164.2 334.3L164.6 333.2M164.9 331.1L165.3 330.0L165.7 329.5L166.0 328.8M167.2 325.7L167.5 324.5M169.0 320.8L169.3 319.7M170.7 317.0L171.2 315.4M172.6 312.5L173.1 311.7L173.5 311.1L173.9 309.8M174.4 309.6L174.8 308.2M175.1 306.1L175.5 305.1M177.1 301.5L177.2 301.0M178.0 297.7L178.4 296.8M179.2 295.4L179.6 294.0M180.1 291.9L180.6 290.4M181.1 290.6L181.5 289.8M182.0 288.1L182.4 286.8M182.9 287.0L183.3 285.7L183.8 285.1L184.2 285.9L184.7 285.0M185.6 281.4L186.0 280.3M187.0 278.0L187.5 276.9L188.0 275.4L188.5 274.6M189.0 274.6L189.5 273.8L190.0 272.9L190.5 272.1M191.0 270.3L191.5 268.7L192.0 267.7M193.0 267.4L193.5 266.3L194.0 265.3L194.5 263.7L195.0 262.7L195.5 261.7L196.0 261.1M196.5 261.6L197.0 260.4M197.5 258.5L198.0 257.4L198.6 256.5L199.1 255.2M199.7 254.7L200.3 253.3L200.9 252.4L201.4 251.3L202.0 250.4L202.6 249.0L203.1 247.8M206.0 245.4L206.6 244.1L207.1 242.7L207.7 241.8L208.3 240.7M208.9 240.6L209.4 239.2L210.0 237.5M210.6 237.4L211.1 236.3M212.9 232.9L213.4 231.4M216.3 229.9L216.9 228.2L217.4 227.4L218.0 226.3L218.7 225.0L219.3 223.2L220.0 221.8M222.0 221.5L222.7 220.2L223.3 218.8L224.0 217.6M224.7 217.7L225.3 216.8L226.0 215.0L226.7 213.9L227.3 213.0M228.0 213.2L228.7 212.1L229.3 210.9M230.0 210.2L230.7 209.3L231.3 207.9L232.0 206.5L232.7 205.4M234.7 205.2L235.3 202.9M236.7 201.9L237.3 200.7M238.0 200.1L238.7 199.2M239.3 199.2L240.0 198.0M241.3 196.9L242.0 195.4L242.8 193.9M244.4 193.6L245.2 192.6L246.0 191.5L246.8 190.3M250.0 188.5L250.8 186.8L251.6 185.1M256.4 182.6L257.2 181.6L258.0 180.0M259.6 178.9L260.4 177.6M262.0 177.5L262.8 176.5L263.6 175.2M264.4 174.3L265.2 173.2M270.0 170.4L270.8 169.0M271.6 168.6L272.4 166.8M276.0 165.4L277.0 163.9M282.0 161.3L283.0 160.1M286.0 158.8L287.0 157.4M296.0 153.7L297.0 152.4L298.0 151.0M313.0 143.6L314.0 142.2M322.0 140.3L323.0 139.0M333.0 136.8L334.0 135.3M345.0 132.4L346.0 130.8L347.0 129.5M355.0 128.2L356.0 126.7M376.0 123.5L377.0 122.1M401.0 116.4L402.0 115.0M491.0 106.4L492.0 107.6M508.0 107.3L509.0 105.8M525.0 104.6L526.0 105.8M529.0 106.8L530.0 105.1M567.0 103.3L568.0 102.0M569.0 102.2L570.0 103.6" stroke="#3ca83c" stroke-width="1.3" stroke-opacity="0.85"/>
<path d="M141.3 393.8L141.7 392.1L142.1 390.7M143.5 387.8L143.8 386.1M144.5 383.8L144.8 382.4M146.3 379.8L146.6 378.1M147.7 376.3L148.0 374.7L148.4 373.3L148.8 371.6M150.3 367.9L150.6 366.3M151.7 364.7L152.1 363.3M152.4 362.2L152.8 360.4M153.1 359.7L153.5 358.4M155.6 353.4L156.0 351.8L156.4 350.1M162.5 338.9L162.8 337.6L163.1 335.7M164.6 333.2L164.9 331.1M166.4 328.5L166.8 327.2L167.2 325.7M167.5 324.5L167.9 322.7M168.6 322.2L169.0 320.8M170.2 319.0L170.7 317.0M171.6 314.9L172.1 313.0M174.8 308.2L175.1 306.1M176.1 305.7L176.6 304.0L176.9 302.5L177.1 301.5M177.2 301.0L177.3 300.1L177.5 298.9L177.7 297.7M178.4 296.8L178.7 295.1M179.6 294.0L180.1 291.9M181.5 289.8L182.0 288.1M184.7 285.0L185.1 283.1L185.6 281.4M186.0 280.3L186.5 278.4M190.5 272.1L191.0 270.3M197.0 260.4L197.5 258.5M211.1 236.3L211.7 233.9" stroke="#3ca83c" stroke-width="1.2" stroke-opacity="0.9"/>
<path d="M32.0 407.6L32.5 407.9L33.1 407.4L33.8 406.8L34.5 407.7L35.3 407.6L36.1 407.2L37.0 407.6L37.9 407.7L38.9 407.6L39.9 407.5L40.9 407.6L41.9 407.1L43.0 407.1L44.1 407.2L45.3 407.7L46.4 407.5L47.5 407.2L48.7 406.9L49.9 407.2L51.0 407.4L52.2 407.6L53.4 408.3L54.5 407.8M55.7 405.9L56.8 406.0L57.9 407.0L58.9 407.3L60.0 407.6L61.0 408.0L62.0 408.5M62.9 407.2L63.9 407.4L64.9 408.6L66.0 408.3L67.0 407.8L68.0 407.0L69.0 406.5L70.0 407.2L71.1 407.3L72.1 406.6L73.1 406.8L74.2 407.0L75.2 406.8L76.2 407.1L77.2 407.3L78.3 407.2L79.3 407.1L80.3 407.6L81.3 407.9L82.3 407.4L83.3 407.0L84.3 407.4L85.3 407.2L86.2 407.4L87.2 406.9L88.1 407.5L89.1 407.1L90.0 406.5L91.1 406.8L92.2 407.2L93.3 407.2L94.4 406.6L95.5 406.5L96.6 407.1L97.7 407.1L98.8 407.5L99.9 407.5L101.0 406.7L102.1 407.5L103.1 408.1L104.2 407.4L105.2 407.1L106.2 407.8L107.2 408.0L108.2 408.0L109.1 407.3L110.0 406.8L110.9 407.3L111.8 407.6L112.7 408.1L113.5 407.7M114.3 406.7L115.0 407.0L116.6 408.2L118.0 408.3L119.4 407.7L120.6 407.9L121.6 408.3L122.6 408.6L123.5 408.7L124.4 408.4L125.1 408.2L125.8 408.3L126.5 408.5L128.3 408.3M129.0 409.5L129.8 409.5M130.7 408.4L131.5 408.0M132.1 407.3L132.7 406.8M136.0 399.7L136.6 399.9M138.6 395.6L139.0 395.0M141.3 389.5L141.6 389.4M143.1 385.2L143.6 384.9M144.2 381.2L144.5 380.9M148.9 367.1L149.2 367.3M152.7 354.3L153.0 354.0L153.3 353.7M154.3 349.0L154.6 349.0L155.0 348.7M160.1 333.8L160.5 333.6M161.3 331.0L161.7 330.9L162.1 330.5M165.7 320.1L166.0 319.7M166.4 318.9L166.9 318.6M168.5 313.0L168.9 313.0M170.1 309.7L170.4 310.1M172.6 303.3L173.0 303.2M180.2 284.1L180.6 283.7M181.4 281.3L181.8 281.0M183.0 276.8L183.4 276.8M184.2 274.4L184.6 274.0M185.4 271.4L185.8 270.9M187.0 267.8L187.4 267.9M188.2 264.7L188.6 264.5M192.3 255.5L192.8 255.0M195.4 248.3L195.9 247.8M196.3 246.6L196.8 246.1M200.8 237.6L201.2 237.3M202.1 234.4L202.6 234.5M205.0 229.1L205.5 228.6M207.0 224.6L207.5 224.0M208.0 223.3L208.5 223.1M211.0 217.7L211.5 217.6L212.0 217.1M214.5 211.1L215.0 210.6M215.5 209.9L216.0 209.6M218.0 205.7L218.5 205.2M222.4 197.3L223.0 197.5M224.7 193.6L225.3 193.0M227.0 189.9L227.6 189.4L228.1 188.7L228.7 188.6M231.0 184.0L231.6 183.8M232.1 183.0L232.7 182.5M233.9 179.4L234.4 179.0M235.0 178.2L235.7 177.6M236.3 176.1L237.0 175.4L237.7 175.1L238.3 174.4M239.7 171.7L240.3 171.0L241.0 170.8M242.3 167.9L243.0 168.0L243.7 167.4M245.0 165.3L245.7 164.5M246.3 163.2L247.0 162.7M247.7 161.8L248.3 161.5L249.0 160.7M249.7 159.2L250.3 158.4L251.0 158.0L251.7 157.8M253.0 155.0L253.7 154.8L254.3 154.8L255.0 154.1M255.8 151.6L256.6 151.0L257.4 150.8M258.2 148.9L259.0 147.9L259.8 148.1L260.6 147.5M261.4 146.1L262.2 145.5L263.0 144.9L263.8 144.5M264.6 143.3L265.4 142.4M266.2 140.9L267.0 140.2L267.8 139.8L268.6 139.6M270.2 137.2L271.0 137.0L271.8 136.4M272.6 135.2L273.4 134.3M275.0 132.1L275.8 132.2L276.6 131.6M277.4 130.6L278.2 130.2M279.0 128.8L279.8 128.2L280.6 128.2L281.4 128.3M282.2 126.5L283.0 126.4L283.8 126.3L284.6 125.6L285.4 124.9M287.0 121.8L288.0 122.1L289.0 121.0L290.0 120.3L291.0 119.6L292.0 119.9L293.0 119.2M294.0 117.9L295.0 117.7L296.0 116.8L297.0 115.9L298.0 115.2L299.0 114.6L300.0 114.3L301.0 113.5L302.0 112.7L303.0 112.4L304.0 111.3L305.0 110.9L306.0 110.7L307.0 110.3L308.0 109.2L309.0 109.2L310.0 108.1L311.0 107.0L312.0 106.3L313.0 106.2L314.0 105.4M315.0 104.1L316.0 103.5L317.0 103.2L318.0 103.0L319.0 103.5L320.0 103.3L321.0 102.5L322.0 101.5L323.0 100.5L324.0 100.3L325.0 100.5L326.0 100.6L327.0 99.5M328.0 98.2L329.0 97.6L330.0 96.8L331.0 96.2L332.0 96.1L333.0 96.2L334.0 96.4L335.0 95.5L336.0 95.5L337.0 95.2L338.0 94.2L339.0 94.1L340.0 93.3L341.0 92.2L342.0 91.9L343.0 91.4L344.0 90.8L345.0 90.5L346.0 90.3L347.0 89.9L348.0 89.0L349.0 88.5L350.0 87.8L351.0 88.2L352.0 88.2L353.0 87.7L354.0 87.3L355.0 86.9L356.0 86.0L357.0 85.8L358.0 86.0L359.0 85.9L360.0 85.7L361.0 85.9L362.0 84.8L363.0 84.6L364.0 84.3L365.0 83.2L366.0 82.1L367.0 81.7L368.0 82.2L369.0 82.5L370.0 81.9L371.0 81.3L372.0 80.8L373.0 80.5L374.0 79.3L375.0 79.8L376.0 79.5L377.0 79.1L378.0 79.8M379.0 78.3L380.0 77.5L381.0 77.6L382.0 78.2L383.0 77.6L384.0 77.8L385.0 77.7L386.0 77.0L387.0 75.9L388.0 76.2L389.0 76.7M390.0 75.4L391.0 75.0L392.0 75.3L393.0 75.6L394.0 75.4L395.0 75.0L396.0 74.2L397.0 74.7L398.0 74.2L399.0 73.3M400.0 74.6L401.0 74.8M402.0 73.2L403.0 73.1L404.0 73.2M405.0 71.6L406.0 70.8L407.0 71.0L408.0 71.3L409.0 71.4L410.0 71.8L411.0 71.4L412.0 70.6L413.0 71.4L414.0 72.1L415.0 71.8L416.0 71.2L417.0 70.6L418.0 70.5L419.0 69.7L420.0 70.0L421.0 69.9L422.0 70.1L423.0 69.5L424.0 68.6L425.0 69.0L426.0 69.3L427.0 68.2L428.0 67.8L429.0 67.6L430.0 67.4L431.0 68.5L432.0 68.9L433.0 68.5L434.0 67.9L435.0 67.6L436.0 67.4L437.0 67.0L438.0 67.6L439.0 67.9L440.0 67.4L441.0 66.6L442.0 66.5L443.0 66.7L444.0 67.3L445.0 66.3L446.0 65.2L447.0 66.2L448.0 67.1L449.0 66.7L450.0 66.3L451.0 65.4M452.0 64.1L453.0 63.8L454.0 64.3L455.0 64.9L456.0 65.3L457.0 65.3L458.0 65.0L459.0 65.2L460.0 64.6L461.0 64.3L462.0 64.7L463.0 63.6L464.0 62.5L465.0 63.2L466.0 63.5L467.0 62.4L468.0 63.2L469.0 63.4L470.0 62.7L471.0 62.6L472.0 63.1L473.0 63.4L474.0 64.2L475.0 63.6L476.0 62.4L477.0 62.7L478.0 63.8L479.0 64.4L480.0 63.7L481.0 63.6L482.0 64.0L483.0 63.1L484.0 62.4L485.0 61.8L486.0 62.5L487.0 63.4M488.0 62.2L489.0 62.0L490.0 61.7L491.0 62.3L492.0 62.7L493.0 62.4L494.0 62.6L495.0 62.7L496.0 62.7L497.0 63.1L498.0 62.6L499.0 61.7L500.0 61.2L501.0 61.3L502.0 61.7L503.0 62.0M504.0 63.3L505.0 63.0M506.0 61.6L507.0 61.5L508.0 61.9M509.0 60.5L510.0 60.8L511.0 61.5L512.0 60.7L513.0 60.6L514.0 60.9L515.0 61.3L516.0 61.2L517.0 61.2L518.0 61.2L519.0 61.1L520.0 61.2L521.0 60.2L522.0 59.4L523.0 59.0L524.0 59.2L525.0 60.0L526.0 60.9L527.0 60.5L528.0 59.8L529.0 59.4L530.0 59.6L531.0 59.7L532.0 59.4L533.0 59.0L534.0 59.6L535.0 59.9L536.0 58.8L537.0 58.8L538.0 58.5L539.0 59.2L540.0 58.8L541.0 58.2L542.0 59.4L543.0 60.4L544.0 59.9L545.0 59.9L546.0 58.9L547.0 58.0L548.0 58.8L549.0 58.6L550.0 58.2L551.0 59.0L552.0 59.0L553.0 58.6L554.0 58.8L555.0 58.3L556.0 58.5L557.0 58.1L558.0 58.2L559.0 58.0L560.0 58.8L561.0 58.7L562.0 58.7L563.0 57.6L564.0 57.6L565.0 57.6M566.0 56.1L567.0 56.7M568.0 57.9L569.0 58.0L570.0 57.9L571.0 57.3L572.0 57.2L573.0 56.5L574.0 55.8L575.0 55.6L576.1 56.0L577.2 56.1L578.3 55.4" stroke="#a83ca4" stroke-width="2.0" stroke-opacity="1.0"/>
<path d="M54.5 407.8L55.7 405.9M62.0 408.5L62.9 407.2M113.5 407.7L114.3 406.7M128.3 408.3L129.0 409.5M129.8 409.5L130.7 408.4M131.5 408.0L132.1 407.3M132.7 406.8L133.3 405.6L134.0 404.8L134.5 404.2L135.0 402.6M135.5 400.7L136.0 399.7M136.6 399.9L137.1 398.3L137.6 396.9L138.1 396.3L138.6 395.6M139.0 395.0L139.5 393.8L140.0 392.5L140.5 391.3L140.9 390.6L141.3 389.5M141.6 389.4L142.0 388.7M142.7 384.6L143.1 385.2M144.8 379.6L145.2 378.6L145.5 377.9L145.9 377.2M146.2 375.9L146.6 374.9M147.3 372.2L147.6 371.1L148.0 370.0L148.3 369.1M148.6 367.8L148.9 367.1M149.8 364.8L150.0 364.0M150.3 362.6L150.6 361.7L150.9 361.1M151.5 358.4L151.8 358.0M152.4 355.1L152.7 354.3M155.6 346.0L156.0 345.6L156.3 345.0L156.7 344.2L157.1 343.5M158.0 339.7L158.3 339.0L158.7 338.3L159.0 337.4L159.4 336.5L159.7 335.3M160.9 332.2L161.3 331.0M162.1 330.5L162.6 329.1M163.0 327.5L163.4 326.6L163.8 327.1M164.6 323.0L164.9 322.0L165.3 321.4M166.0 319.7L166.4 318.9M167.7 314.4L168.1 313.9L168.5 313.0M168.9 313.0L169.3 312.1L169.7 310.9L170.1 309.7M170.4 310.1L170.8 309.3M171.1 307.1L171.4 306.3L171.7 305.4L172.0 304.6L172.6 303.3M173.4 301.4L173.8 300.7L174.2 300.2L174.5 299.0L175.0 297.8L175.3 297.0L175.7 296.1M176.0 294.9L176.4 294.2L176.8 293.4L177.1 292.5L177.5 291.6L177.9 290.7L178.3 290.0M178.6 288.7L179.0 287.6L179.4 286.3L179.8 285.2L180.2 284.1M181.0 282.2L181.4 281.3M181.8 281.0L182.2 280.1M183.4 276.8L183.8 275.9M185.0 272.6L185.4 271.4M185.8 270.9L186.2 270.1L186.6 269.0L187.0 267.8M188.6 264.5L189.0 263.6L189.4 262.8L189.8 261.7L190.2 260.8L190.6 260.0L191.0 258.8L191.4 258.2L191.9 256.8L192.3 255.5M192.8 255.0L193.2 254.3L193.7 252.9L194.1 251.7L194.6 251.0M195.0 249.1L195.4 248.3M195.9 247.8L196.3 246.6M196.8 246.1L197.2 245.5L197.7 244.7M198.1 243.1L198.6 242.1L199.0 241.3L199.4 240.0L199.9 240.9M200.3 238.9L200.8 237.6M201.2 237.3L201.7 235.9M202.6 234.5L203.0 233.9L203.5 232.3L204.0 231.3L204.5 230.5L205.0 229.1M205.5 228.6L206.0 227.5L206.5 225.9L207.0 224.6M207.5 224.0L208.0 223.3M208.5 223.1L209.0 222.1L209.5 221.2L210.0 220.1L210.5 218.9L211.0 217.7M212.5 215.2L213.0 213.9L213.5 213.1L214.0 212.1L214.5 211.1M215.0 210.6L215.5 209.9M216.0 209.6L216.5 208.4L217.0 207.5L217.5 206.8L218.0 205.7M218.5 205.2L219.0 203.5L219.6 202.1L220.1 201.4L220.7 200.4L221.3 199.1L221.9 198.4L222.4 197.3M223.0 197.5L223.6 196.2L224.1 194.7L224.7 193.6M225.3 193.0L225.9 192.1L226.4 190.8L227.0 189.9M228.7 188.6L229.3 187.9L229.9 186.6L230.4 185.4L231.0 184.0M231.6 183.8L232.1 183.0M232.7 182.5L233.3 181.7M234.4 179.0L235.0 178.2M235.7 177.6L236.3 176.1M238.3 174.4L239.0 173.1L239.7 171.7M241.0 170.8L241.7 169.4L242.3 167.9M243.7 167.4L244.3 166.5L245.0 165.3M245.7 164.5L246.3 163.2M247.0 162.7L247.7 161.8M249.0 160.7L249.7 159.2M251.7 157.8L252.3 156.6L253.0 155.0M255.0 154.1L255.8 151.6M257.4 150.8L258.2 148.9M260.6 147.5L261.4 146.1M263.8 144.5L264.6 143.3M265.4 142.4L266.2 140.9M268.6 139.6L269.4 138.5L270.2 137.2M271.8 136.4L272.6 135.2M273.4 134.3L274.2 133.3L275.0 132.1M276.6 131.6L277.4 130.6M278.2 130.2L279.0 128.8M281.4 128.3L282.2 126.5M285.4 124.9L286.2 123.0L287.0 121.8M293.0 119.2L294.0 117.9M314.0 105.4L315.0 104.1M327.0 99.5L328.0 98.2M378.0 79.8L379.0 78.3M389.0 76.7L390.0 75.4M399.0 73.3L400.0 74.6M401.0 74.8L402.0 73.2M404.0 73.2L405.0 71.6M451.0 65.4L452.0 64.1M487.0 63.4L488.0 62.2M503.0 62.0L504.0 63.3M505.0 63.0L506.0 61.6M508.0 61.9L509.0 60.5M565.0 57.6L566.0 56.1M567.0 56.7L568.0 57.9M578.3 55.4L579.0 54.4" stroke="#a83ca4" stroke-width="1.3" stroke-opacity="0.85"/>
<path d="M135.0 402.6L135.5 400.7M142.0 388.7L142.3 386.1L142.7 384.6M143.6 384.9L143.9 382.5L144.2 381.2M144.5 380.9L144.8 379.6M145.9 377.2L146.2 375.9M146.6 374.9L146.9 373.6L147.3 372.2M148.3 369.1L148.6 367.8M149.2 367.3L149.5 365.9L149.8 364.8M150.0 364.0L150.3 362.6M150.9 361.1L151.2 359.9L151.5 358.4M151.8 358.0L152.1 356.6L152.4 355.1M153.3 353.7L153.7 351.8L154.0 350.6L154.3 349.0M155.0 348.7L155.3 347.3L155.6 346.0M157.1 343.5L157.5 341.5L158.0 339.7M159.7 335.3L160.1 333.8M160.5 333.6L160.9 332.2M162.6 329.1L163.0 327.5M163.8 327.1L164.2 325.3L164.6 323.0M165.3 321.4L165.7 320.1M166.9 318.6L167.3 317.0L167.7 314.4M170.8 309.3L171.1 307.1M173.0 303.2L173.4 301.4M175.7 296.1L176.0 294.9M178.3 290.0L178.6 288.7M180.6 283.7L181.0 282.2M182.2 280.1L182.6 278.4L183.0 276.8M183.8 275.9L184.2 274.4M184.6 274.0L185.0 272.6M187.4 267.9L187.8 266.1L188.2 264.7M194.6 251.0L195.0 249.1M197.7 244.7L198.1 243.1M199.9 240.9L200.3 238.9M201.7 235.9L202.1 234.4M212.0 217.1L212.5 215.2M233.3 181.7L233.9 179.4" stroke="#a83ca4" stroke-width="1.2" stroke-opacity="0.9"/>
<path d="M32.0 233.2L32.5 233.7M33.1 234.6L33.8 233.9M34.5 232.8L35.3 233.2L36.1 233.2L37.0 233.2L37.9 232.7L38.9 233.4L39.9 234.0L40.9 234.5L41.9 234.0L43.0 233.5L44.1 233.2L45.3 234.1L46.4 233.0L47.5 233.6L48.7 233.3L49.9 232.8L51.0 232.8L52.2 233.0L53.4 233.4L54.5 233.6L55.7 233.8L56.8 232.6L57.9 232.8L58.9 233.0L60.0 233.2L61.0 232.2L62.0 232.8L63.0 233.1L64.0 232.7L65.0 233.5L66.0 233.7L67.1 234.0L68.1 233.7L69.2 232.7L70.2 232.6L71.3 233.1L72.3 233.7L73.4 233.6L74.4 232.8L75.5 232.6L76.5 232.5L77.6 232.6L78.6 232.9L79.7 233.4L80.7 234.1L81.7 233.1L82.7 232.9L83.6 233.1L84.6 232.6L85.6 232.7L86.5 233.1L87.4 233.2L88.3 232.7L89.2 233.5L90.0 233.1L91.2 233.2L92.5 233.6L93.6 233.6L94.8 233.6L95.9 233.2L97.1 233.0L98.2 232.8L99.2 232.6L100.3 233.1L101.3 232.4L102.3 232.3M103.2 233.6L104.2 232.8L105.1 232.4L106.0 233.4L106.8 233.0L107.7 233.0L108.5 232.3L109.2 232.0L110.0 231.3L111.6 231.0L113.0 231.6L114.2 232.3L115.4 233.1L116.4 233.5M117.3 232.2L118.1 232.5L118.9 232.1L119.5 232.0L120.4 231.9L120.7 231.7M124.7 270.3L124.8 270.3M125.8 279.3L125.9 279.3M129.1 310.3L129.2 310.3M130.6 323.3L130.7 323.4M131.1 327.6L131.2 327.6M133.5 348.4L133.6 348.4M133.8 349.8L133.9 349.8M134.3 352.8L134.6 353.1M138.0 368.8L138.3 368.8L138.6 368.9L138.9 369.3M141.6 377.2L142.2 377.3M143.6 380.2L144.5 380.8L145.4 380.8L146.4 381.4L147.5 381.0L148.7 381.0L150.0 381.1M150.9 382.5L151.8 383.1L152.7 383.9L153.7 384.2L154.8 384.3L155.8 384.9L156.9 385.7L157.9 385.6L159.0 385.8L160.0 386.5L161.0 387.3L162.0 388.1L163.0 388.6L164.0 388.3L165.0 388.7L166.0 388.5L167.0 389.1L168.0 389.7L169.0 390.6L170.0 390.4L171.0 390.1L172.0 390.7L173.0 391.0L174.0 390.9L175.0 390.9L176.0 391.5M177.0 393.2L178.0 392.9L179.0 392.8L180.0 392.1L181.0 392.2L181.9 393.0L182.9 393.7L183.8 394.2L184.7 394.0L185.7 395.0L186.7 395.7L187.7 395.2L188.8 395.7L190.0 395.6L190.8 396.1L191.6 396.8L192.4 397.4L193.1 396.7L193.9 397.1L194.7 397.5L195.5 396.9L196.4 397.2L197.3 397.2L198.3 397.6L199.4 398.6L200.6 399.4L201.8 400.4L203.2 400.2L204.7 399.9L205.5 399.1L206.2 398.9L207.1 398.8L207.9 398.3M208.8 399.7L209.7 399.1L210.6 398.7L211.5 399.2L212.5 400.2L213.5 400.4L214.5 399.8L215.5 399.9L216.6 399.7L217.6 399.4L218.7 399.9L219.7 399.8L220.8 399.4L221.9 400.2L223.0 399.6L224.1 399.9L225.2 399.6L226.3 399.6L227.4 400.0L228.5 400.5L229.6 399.9L230.7 400.5L231.8 401.3L232.8 400.5L233.9 400.7L234.9 401.0L236.0 400.7L237.0 400.8L238.0 400.7L239.0 401.2L240.0 400.9L241.0 400.7L242.1 401.6L243.1 401.2L244.1 400.8L245.1 400.5L246.1 400.7L247.1 401.1L248.1 401.5L249.1 401.6L250.2 400.7L251.2 401.1L252.2 402.0L253.2 401.7L254.2 401.9L255.2 402.4L256.2 402.0L257.2 401.8L258.3 401.9L259.3 402.6L260.3 402.3L261.3 401.5L262.3 401.5L263.3 401.3L264.3 402.1L265.3 402.2L266.4 401.6L267.4 401.1L268.4 400.8L269.4 401.8L270.4 401.7L271.4 401.7L272.3 402.0L273.2 401.4L274.1 401.2L275.0 401.1L275.9 401.4M276.7 402.8L277.6 402.1L278.4 401.8L279.3 401.7M280.1 400.3L281.0 401.3L281.8 401.7L282.7 401.4L283.6 401.6L284.5 400.9L285.4 401.7L286.3 402.0M287.3 400.6L288.3 400.7L289.3 401.5L290.3 401.7L291.4 401.6L292.6 402.0L293.7 401.8L294.9 401.2L296.2 401.3L297.5 400.8L298.9 400.1L300.3 400.4L301.8 402.0L302.6 402.3L303.3 402.6M304.1 401.4L304.9 401.5L305.7 402.0L306.5 401.9L307.4 402.1L308.2 401.9L309.1 401.2L309.9 400.4L310.8 401.3M311.7 402.8L312.5 402.9L313.4 402.7L314.3 401.8L315.3 401.6L316.2 401.5L317.1 402.0L318.1 402.1L319.0 402.5L320.0 402.9L320.9 402.0L321.9 402.0L322.9 401.6L323.9 402.3L324.9 401.9L325.9 401.9L326.9 402.4L327.9 402.9L328.9 402.2L329.9 401.5L331.0 401.3L332.0 401.8L333.0 401.5L334.1 401.6L335.2 402.1L336.2 402.3L337.3 401.9L338.4 402.6L339.4 402.9L340.5 401.8L341.6 402.9L342.7 403.4L343.8 402.2L344.9 402.0L346.0 401.5L347.1 401.9L348.2 402.0L349.4 402.0L350.5 401.5L351.6 401.4L352.7 401.6L353.9 401.5L355.0 401.6L356.2 401.7L357.3 401.4L358.4 401.9L359.6 401.9L360.7 400.9L361.9 401.6L363.0 401.5L364.2 401.1L365.3 401.0L366.5 401.2L367.4 401.6L368.3 401.9L369.2 401.6L370.1 402.2L370.9 401.9L371.8 402.5L372.7 402.5L373.6 401.8L374.5 402.8L375.4 403.4L376.3 402.3L377.1 402.3L378.0 402.1L378.9 402.1L379.8 401.9L380.7 401.9L381.6 402.6L382.5 402.7L383.4 402.6L384.2 403.1L385.1 403.1L386.0 402.6L386.9 402.2L387.8 403.3L388.7 402.8M389.6 401.0L390.5 401.1L391.4 401.8L392.4 402.8L393.3 402.9L394.2 402.2L395.1 402.3L396.0 402.3L397.0 401.7L397.9 402.2L398.8 402.1L399.8 402.2L400.7 401.9L401.7 401.3L402.6 401.4L403.6 402.0L404.5 402.1L405.5 402.2L406.5 402.6L407.4 401.9L408.4 401.3L409.4 401.7L410.4 401.9L411.4 402.2L412.4 402.8L413.4 402.8L414.4 402.9L415.5 402.6L416.5 402.3L417.5 402.6L418.6 402.2L419.6 402.0L420.7 401.6L421.8 401.9L422.8 402.0L423.9 402.5L425.0 403.5L426.1 403.8L427.2 403.0L428.3 402.4L429.4 402.5L430.6 402.2L431.7 401.7L432.9 401.8L434.0 401.8L435.2 401.9L436.4 402.6L437.6 401.9L438.8 401.8L440.0 402.2L441.2 401.6L442.4 401.1L443.6 401.4L444.9 402.2L446.2 402.4L447.4 402.2L448.7 401.6L450.0 401.6L450.8 402.1L451.7 401.4L452.5 401.4L453.4 401.2L454.2 401.5L455.1 402.1L456.0 402.1M457.9 402.1L458.8 401.8L459.7 402.2L460.7 402.4L461.6 401.7L462.6 401.9L463.6 402.2L464.6 401.9L465.6 401.6L466.6 402.0L467.6 401.8L468.6 401.5L469.7 402.5L470.7 401.9M471.8 400.6L472.8 401.4M473.9 403.1L475.0 403.2L476.1 402.1L477.1 401.1L478.2 401.8L479.3 402.6L480.5 402.4L481.6 401.8L482.7 401.7L483.8 402.3L484.9 402.1L486.1 402.2L487.2 402.6L488.4 403.0L489.5 402.5L490.7 401.9L491.8 401.3L493.0 402.5L494.1 402.7L495.3 401.8L496.5 400.7L497.6 401.3L498.8 402.3L500.0 403.3L501.2 402.9L502.3 402.7L503.5 402.8L504.7 402.7L505.9 401.5L507.1 401.1L508.2 401.2L509.4 401.6L510.6 401.8L511.8 401.8L513.0 401.5L514.2 401.7L515.3 402.0L516.5 402.9L517.7 402.6L518.9 403.6L520.0 403.1L521.2 401.8L522.4 402.4L523.6 402.2L524.7 401.4L525.9 402.1L527.0 402.1L528.2 402.0L529.3 401.6L530.5 401.9L531.6 402.2L532.8 401.9L533.9 401.6L535.0 401.6L536.2 401.5L537.3 401.6L538.4 401.0M539.5 402.4L540.6 402.4L541.7 402.4L542.8 402.3L543.8 401.9L544.9 402.8L546.0 401.9L547.0 402.1L548.1 402.5L549.1 402.8L550.2 402.0L551.2 401.3L552.2 401.5L553.2 400.7L554.2 401.4L555.2 402.0L556.2 402.7L557.1 402.1L558.1 401.6L559.1 401.4L560.0 401.3L560.9 401.7L561.8 402.0L562.7 401.4L563.6 401.4L564.5 401.1L565.4 401.7L566.2 401.8L567.1 401.3L567.9 401.5L568.7 402.1L569.5 402.6L570.3 402.6L571.1 401.9L571.9 401.1L572.6 401.1M573.4 402.4L574.1 403.0L574.8 402.7L575.5 402.8M576.1 402.0L576.8 402.0L577.4 402.6L578.1 401.8L578.7 402.2L579.3 402.3L579.9 402.5L580.4 402.8M581.0 401.8L581.5 401.2" stroke="#40b8b0" stroke-width="2.0" stroke-opacity="1.0"/>
<path d="M32.5 233.7L33.1 234.6M33.8 233.9L34.5 232.8M102.3 232.3L103.2 233.6M116.4 233.5L117.3 232.2M125.1 273.9L125.2 274.1M131.2 327.6L131.4 328.1M131.6 332.6L131.8 332.9M135.3 357.5L135.6 358.2M135.9 359.6L136.2 360.3M136.5 362.0L136.7 362.6L137.0 363.4M139.5 372.0L140.0 373.5L140.5 374.8L141.1 376.2L141.6 377.2M142.2 377.3L142.9 378.3L143.6 380.2M150.0 381.1L150.9 382.5M176.0 391.5L177.0 393.2M207.9 398.3L208.8 399.7M275.9 401.4L276.7 402.8M279.3 401.7L280.1 400.3M286.3 402.0L287.3 400.6M303.3 402.6L304.1 401.4M310.8 401.3L311.7 402.8M388.7 402.8L389.6 401.0M456.0 402.1L456.9 400.9L457.9 402.1M470.7 401.9L471.8 400.6M472.8 401.4L473.9 403.1M538.4 401.0L539.5 402.4M572.6 401.1L573.4 402.4M575.5 402.8L576.1 402.0M580.4 402.8L581.0 401.8M581.5 401.2L582.0 400.3" stroke="#40b8b0" stroke-width="1.3" stroke-opacity="0.85"/>
<path d="M120.7 231.7L120.8 232.8L121.0 235.2L121.1 236.3L121.2 237.2L121.3 238.7L121.4 239.3L121.5 240.1L121.6 241.5L121.7 242.2L121.9 242.7L122.0 243.6L122.1 244.9L122.2 246.5L122.3 247.6L122.4 248.5L122.6 249.6L122.7 250.3L122.8 251.4L122.9 252.2L123.1 254.3L123.2 255.3L123.3 256.1L123.4 257.2L123.5 257.8L123.6 258.7L123.7 260.2L123.8 260.7L123.9 261.2L124.0 262.3L124.1 263.0L124.2 265.1L124.4 265.8L124.5 267.0L124.6 269.3L124.7 270.3M124.8 270.3L124.9 271.3L125.0 272.8L125.1 273.9M125.2 274.1L125.4 275.2L125.5 276.7L125.6 277.5L125.7 278.5L125.8 279.3M125.9 279.3L126.0 279.9L126.1 280.4L126.2 282.6L126.3 284.5L126.4 284.9L126.6 286.7L126.7 287.8L126.8 288.2L126.9 289.1L127.0 290.0L127.1 290.6L127.2 291.8L127.3 293.2L127.4 294.6L127.5 295.5L127.6 296.0L127.7 297.3L127.9 297.8L128.0 299.0L128.1 300.3L128.2 301.1L128.3 302.1L128.4 303.1L128.5 303.7L128.6 304.5L128.7 306.0L128.8 307.6L129.0 308.6L129.1 310.3M129.2 310.3L129.3 309.8L129.4 312.0L129.6 314.4L129.7 314.9L129.8 315.3L129.9 316.5L130.0 318.6L130.2 319.8L130.3 320.5L130.4 321.5L130.5 322.9L130.6 323.3M130.7 323.4L130.8 324.9L130.9 325.8L131.0 326.5L131.1 327.6M131.4 328.1L131.5 331.1L131.6 332.6M131.8 332.9L131.9 333.6L132.0 334.5L132.1 335.0L132.2 336.3L132.3 337.1L132.4 337.7L132.5 338.4L132.6 339.7L132.7 341.8L132.9 343.2L133.0 343.8L133.1 344.3L133.2 345.2L133.4 347.1L133.5 348.4M133.6 348.4L133.8 349.8M133.9 349.8L134.1 351.3L134.3 352.8M134.6 353.1L134.8 354.0L135.1 356.1L135.3 357.5M135.6 358.2L135.9 359.6M136.2 360.3L136.5 362.0M137.0 363.4L137.2 364.5L137.5 365.7L137.8 367.6L138.0 368.8M138.9 369.3L139.2 370.5L139.5 372.0" stroke="#40b8b0" stroke-width="1.2" stroke-opacity="0.9"/>
<path d="M32.0 232.0L32.5 231.8L33.1 232.3L33.8 232.9L34.5 233.2L35.3 232.7L36.1 232.2L37.0 232.2L37.9 233.0L38.9 233.5L39.9 232.7L40.9 231.8L41.9 232.1L43.0 233.1L44.1 232.5L45.3 231.6L46.4 231.9L47.5 231.8L48.7 231.9L49.9 232.0L51.0 232.1L52.2 232.5L53.4 232.3L54.5 232.1L55.7 232.6L56.8 232.5L57.9 231.6L58.9 231.8L60.0 231.8L61.0 231.8L62.0 231.6L63.0 232.1L64.0 232.2L65.0 231.9L66.0 231.6L67.1 231.7L68.1 231.4L69.2 231.4L70.2 231.9L71.3 231.9L72.3 232.7L73.4 232.4L74.4 231.4L75.5 231.8L76.5 231.7L77.6 232.0L78.6 231.8L79.7 231.1L80.7 231.6L81.7 232.1L82.7 232.3L83.6 231.8L84.6 232.1L85.6 231.6L86.5 231.6L87.4 231.8L88.3 232.7L89.2 232.9L90.0 233.4L91.2 232.8L92.5 232.6L93.6 232.4L94.8 231.8L95.9 232.0L97.1 232.5L98.2 231.9L99.2 231.9L100.3 231.9L101.3 232.0L102.3 231.7L103.2 231.7L104.2 231.8L105.1 231.7L106.0 231.4L106.8 231.7L107.7 231.0L108.5 230.6L109.2 231.0L110.0 231.8L111.6 231.4L113.0 230.8L114.2 230.7L115.4 231.1L116.4 230.6L117.3 230.5L118.1 231.1L118.9 230.8L119.5 231.2L120.4 231.8M121.1 236.4L121.2 236.4M124.2 265.3L124.4 265.3M127.5 295.1L127.6 295.2M131.5 331.6L131.6 331.6M137.8 367.4L138.0 367.7M139.2 371.2L139.5 371.0M140.5 374.2L141.1 374.0M142.2 377.4L142.9 377.8L143.6 378.0L144.5 378.8L145.4 379.5L146.4 380.3L147.5 380.5L148.7 380.4L150.0 380.6L150.9 381.4L151.8 382.4L152.7 382.7L153.7 383.0L154.8 382.9L155.8 382.8L156.9 383.6L157.9 384.7L159.0 384.9L160.0 384.6L161.0 384.8L162.0 385.8L163.0 386.2L164.0 386.5L165.0 387.0L166.0 387.6L167.0 388.2L168.0 388.8L169.0 389.3L170.0 389.7L171.0 389.7L172.0 389.4L173.0 389.7L174.0 390.2L175.0 390.3L176.0 391.0L177.0 391.3L178.0 390.6L179.0 390.6M180.0 392.0L181.0 392.3L181.9 392.4L182.9 392.4M183.8 393.7L184.7 393.8L185.7 393.6L186.7 393.7L187.7 394.1L188.8 394.4L190.0 394.5L190.8 394.6M191.6 395.6L192.4 395.6L193.1 395.7L193.9 395.6L194.7 395.1M195.5 396.1L196.4 396.4L197.3 396.6L198.3 396.8L199.4 396.8L200.6 397.5L201.8 397.2L203.2 397.0L204.7 397.4L205.5 398.0L206.2 398.3L207.1 397.7L207.9 397.6L208.8 398.4L209.7 398.2L210.6 398.8L211.5 398.5L212.5 398.1L213.5 398.3L214.5 398.9L215.5 399.2L216.6 399.0L217.6 399.6L218.7 400.0L219.7 399.0L220.8 398.3L221.9 398.2L223.0 398.2L224.1 398.6L225.2 398.6L226.3 398.7L227.4 399.0L228.5 398.0L229.6 398.7M230.7 400.4L231.8 400.5L232.8 400.1L233.9 400.3L234.9 400.7L236.0 400.3L237.0 399.7L238.0 399.3L239.0 399.5L240.0 399.4L241.0 399.4L242.1 399.5L243.1 399.9L244.1 400.0L245.1 400.3L246.1 399.6L247.1 400.2L248.1 401.1L249.1 400.7L250.2 401.0L251.2 401.2L252.2 401.3L253.2 400.7L254.2 399.8L255.2 400.0L256.2 400.0L257.2 399.6L258.3 399.8L259.3 399.6L260.3 399.6L261.3 400.4L262.3 400.5L263.3 400.1L264.3 400.0L265.3 400.1L266.4 400.3L267.4 400.4L268.4 400.5L269.4 400.5L270.4 400.9L271.4 401.1L272.3 400.9L273.2 400.4L274.1 400.4L275.0 400.9L275.9 400.8L276.7 400.4M277.6 399.2L278.4 399.2M279.3 400.6L280.1 401.3L281.0 401.7L281.8 401.5L282.7 401.1L283.6 400.7L284.5 400.4L285.4 401.0L286.3 400.8L287.3 401.1L288.3 401.1L289.3 401.2L290.3 401.3L291.4 400.8L292.6 400.6L293.7 400.4L294.9 400.9L296.2 401.7L297.5 401.3L298.9 401.6L300.3 401.7L301.8 401.6L302.6 401.3L303.3 400.7L304.1 401.3L304.9 401.7L305.7 400.9L306.5 400.8L307.4 400.7L308.2 400.9L309.1 400.8L309.9 401.6L310.8 400.9L311.7 400.5M312.5 401.8L313.4 401.9L314.3 401.6L315.3 401.3L316.2 400.9L317.1 401.0L318.1 401.5L319.0 401.8L320.0 401.7L320.9 401.3L321.9 400.9L322.9 401.1L323.9 401.8L324.9 401.9L325.9 401.1L326.9 401.0L327.9 401.8L328.9 401.8L329.9 401.4L331.0 400.6L332.0 400.7L333.0 400.9L334.1 400.9L335.2 400.6L336.2 401.5L337.3 401.6L338.4 401.2L339.4 400.7L340.5 401.2L341.6 401.5L342.7 400.7L343.8 401.2L344.9 401.4L346.0 401.1L347.1 401.4L348.2 401.3L349.4 401.8L350.5 401.7L351.6 401.7L352.7 402.3L353.9 402.1L355.0 401.8L356.2 400.7L357.3 400.8L358.4 401.6L359.6 401.8L360.7 401.4L361.9 401.4L363.0 400.9L364.2 400.9L365.3 400.7L366.5 401.1L367.4 400.9L368.3 400.8L369.2 401.4L370.1 401.9L370.9 400.9L371.8 400.9L372.7 401.5L373.6 401.4L374.5 402.0L375.4 401.6L376.3 401.3L377.1 401.7L378.0 402.2L378.9 401.9L379.8 401.6L380.7 401.1L381.6 400.3L382.5 400.7M383.4 401.9L384.2 401.9L385.1 401.6L386.0 401.5L386.9 401.1L387.8 401.1L388.7 400.8L389.6 401.1L390.5 400.8L391.4 401.0L392.4 401.3L393.3 401.2L394.2 401.5L395.1 401.5L396.0 401.6L397.0 401.6M397.9 400.4L398.8 400.2L399.8 401.3L400.7 402.0L401.7 402.4L402.6 401.9L403.6 401.5L404.5 400.9L405.5 401.4L406.5 401.4L407.4 400.6L408.4 400.5L409.4 400.9L410.4 400.7L411.4 399.7L412.4 400.7L413.4 401.2L414.4 401.1L415.5 401.2L416.5 401.2L417.5 400.7L418.6 401.1L419.6 400.9L420.7 400.6L421.8 401.2L422.8 401.6L423.9 400.3L425.0 399.8L426.1 400.3M427.2 401.7L428.3 401.2L429.4 400.8L430.6 400.5L431.7 400.1L432.9 399.9L434.0 400.8L435.2 400.9L436.4 399.9L437.6 400.1L438.8 400.5L440.0 400.9L441.2 401.3L442.4 401.8L443.6 402.0L444.9 402.0L446.2 401.6L447.4 400.6L448.7 400.7L450.0 401.5L450.8 401.3L451.7 400.7L452.5 399.8L453.4 399.9M454.2 401.1L455.1 401.2L456.0 400.8L456.9 400.5L457.9 400.2L458.8 401.1L459.7 401.8L460.7 402.0L461.6 401.2L462.6 400.7L463.6 400.6L464.6 401.7L465.6 401.9L466.6 401.0L467.6 401.0L468.6 401.0L469.7 400.3L470.7 399.6L471.8 400.5L472.8 401.0L473.9 400.3L475.0 399.8L476.1 399.5M477.1 401.2L478.2 401.4L479.3 401.0L480.5 400.8L481.6 400.6L482.7 400.8L483.8 400.8L484.9 400.8L486.1 400.9L487.2 401.3L488.4 401.5L489.5 400.6L490.7 400.8L491.8 400.5L493.0 400.0L494.1 399.8L495.3 400.7L496.5 400.5L497.6 400.5L498.8 400.9L500.0 400.5L501.2 400.8L502.3 401.1L503.5 401.5L504.7 401.5L505.9 400.9L507.1 401.3L508.2 401.1L509.4 401.0L510.6 401.0L511.8 401.1L513.0 400.6L514.2 401.1L515.3 401.5L516.5 401.4L517.7 401.8L518.9 401.0L520.0 400.9L521.2 400.7L522.4 400.4L523.6 400.3L524.7 400.5L525.9 400.7L527.0 400.7L528.2 401.5L529.3 401.6L530.5 400.6L531.6 401.2L532.8 401.2L533.9 401.5L535.0 402.4L536.2 402.0L537.3 401.4L538.4 400.8L539.5 400.1L540.6 400.9L541.7 400.8L542.8 401.0L543.8 401.2L544.9 401.8L546.0 402.3L547.0 402.0L548.1 401.7L549.1 401.2L550.2 401.3L551.2 401.2L552.2 400.8L553.2 401.6L554.2 400.8L555.2 400.5M556.2 401.9L557.1 402.2M558.1 400.9L559.1 401.1M561.8 400.0L562.7 400.7M563.6 402.0L564.5 401.8L565.4 401.7L566.2 401.8L567.1 401.5L567.9 400.7L568.7 400.3L569.5 400.8L570.3 400.5L571.1 401.1L571.9 401.9L572.6 401.5L573.4 401.1L574.1 401.2L574.8 401.5L575.5 401.3L576.1 400.5L576.8 401.2M577.4 402.0L578.1 401.5M578.7 400.6L579.3 400.2L579.9 399.8M581.0 401.6L581.5 401.1L582.0 400.6" stroke="#78c860" stroke-width="2.0" stroke-opacity="1.0"/>
<path d="M120.4 231.8L120.7 232.3M121.0 236.6L121.1 236.4M122.6 250.2L122.7 250.6M126.8 288.9L126.9 289.1M127.2 292.8L127.3 293.0M128.0 299.7L128.1 300.0M128.8 307.4L129.0 307.7M129.8 316.3L129.9 316.6M132.6 340.9L132.7 341.2L132.9 341.4M133.1 344.8L133.2 345.1L133.4 345.4M133.8 350.2L133.9 350.6M134.3 353.3L134.6 353.8M135.3 358.3L135.6 358.8L135.9 359.6M136.2 360.7L136.5 361.3L136.7 361.9L137.0 362.7M138.6 370.0L138.9 370.4L139.2 371.2M140.0 372.8L140.5 374.2M141.1 374.0L141.6 375.4L142.2 377.4M179.0 390.6L180.0 392.0M182.9 392.4L183.8 393.7M190.8 394.6L191.6 395.6M194.7 395.1L195.5 396.1M229.6 398.7L230.7 400.4M276.7 400.4L277.6 399.2M278.4 399.2L279.3 400.6M311.7 400.5L312.5 401.8M382.5 400.7L383.4 401.9M397.0 401.6L397.9 400.4M426.1 400.3L427.2 401.7M453.4 399.9L454.2 401.1M476.1 399.5L477.1 401.2M555.2 400.5L556.2 401.9M557.1 402.2L558.1 400.9M559.1 401.1L560.0 402.4L560.9 401.2L561.8 400.0M562.7 400.7L563.6 402.0M576.8 401.2L577.4 402.0M578.1 401.5L578.7 400.6M579.9 399.8L580.4 400.5L581.0 401.6" stroke="#78c860" stroke-width="1.3" stroke-opacity="0.85"/>
<path d="M120.7 232.3L120.8 233.9L121.0 236.6M121.2 236.4L121.3 237.0L121.4 238.5L121.5 239.7L121.6 240.7L121.7 241.4L121.9 242.2L122.0 243.2L122.1 244.4L122.2 245.8L122.3 246.8L122.4 248.4L122.6 250.2M122.7 250.6L122.8 251.1L122.9 253.3L123.1 254.1L123.2 254.7L123.3 256.2L123.4 256.9L123.5 257.3L123.6 258.1L123.7 259.0L123.8 260.6L123.9 262.0L124.0 262.6L124.1 264.0L124.2 265.3M124.4 265.3L124.5 266.5L124.6 267.4L124.7 268.0L124.8 269.0L124.9 270.6L125.0 271.9L125.1 272.7L125.2 273.9L125.4 275.3L125.5 276.3L125.6 277.5L125.7 278.4L125.8 279.6L125.9 281.1L126.0 281.6L126.1 282.3L126.2 283.2L126.3 283.6L126.4 284.8L126.6 286.5L126.7 287.7L126.8 288.9M126.9 289.1L127.0 289.7L127.1 292.0L127.2 292.8M127.3 293.0L127.4 294.6L127.5 295.1M127.6 295.2L127.7 296.6L127.9 298.1L128.0 299.7M128.1 300.0L128.2 300.8L128.3 301.9L128.4 302.7L128.5 303.6L128.6 305.1L128.7 306.7L128.8 307.4M129.0 307.7L129.1 308.6L129.2 310.1L129.3 311.0L129.4 311.8L129.6 313.0L129.7 315.5L129.8 316.3M129.9 316.6L130.0 318.3L130.2 319.3L130.3 318.9L130.4 320.2L130.5 321.7L130.6 323.1L130.7 323.8L130.8 324.5L130.9 325.8L131.0 327.6L131.1 328.5L131.2 327.9L131.4 329.3L131.5 331.6M131.6 331.6L131.8 332.4L131.9 333.8L132.0 335.1L132.1 336.2L132.2 336.6L132.3 337.0L132.4 338.3L132.5 339.5L132.6 340.9M132.9 341.4L133.0 342.8L133.1 344.8M133.4 345.4L133.5 347.1L133.6 348.9L133.8 350.2M133.9 350.6L134.1 352.1L134.3 353.3M134.6 353.8L134.8 355.1L135.1 357.2L135.3 358.3M135.9 359.6L136.2 360.7M137.0 362.7L137.2 364.0L137.5 365.5L137.8 367.4M138.0 367.7L138.3 369.0L138.6 370.0M139.5 371.0L140.0 372.8" stroke="#78c860" stroke-width="1.2" stroke-opacity="0.9"/>
<path d="M32.5 230.9L33.1 231.5L33.8 231.5L34.5 231.4L35.3 231.2L36.1 230.6L37.0 231.1L37.9 231.9M38.9 233.7L39.9 232.5L40.9 231.6L41.9 231.4L43.0 231.1L44.1 230.9L45.3 231.4L46.4 231.9L47.5 231.9L48.7 232.2L49.9 231.8L51.0 232.0L52.2 232.7L53.4 232.2L54.5 231.4L55.7 231.5L56.8 232.3L57.9 232.8L58.9 231.8L60.0 231.6L61.0 232.0L62.0 231.2L63.0 231.4L64.0 232.1L65.0 232.1L66.0 231.8L67.1 231.4L68.1 230.2L69.2 231.4L70.2 230.8L71.3 230.4L72.3 231.5L73.4 231.9L74.4 231.1L75.5 230.7L76.5 231.2L77.6 231.7L78.6 232.4L79.7 232.2L80.7 231.9L81.7 232.1L82.7 231.3L83.6 230.9L84.6 231.6L85.6 231.8L86.5 231.2L87.4 230.9L88.3 230.8L89.2 230.0M90.0 231.3L91.2 231.4L92.5 230.4L93.6 230.8L94.8 230.8L95.9 231.1L97.1 229.9L98.2 230.3L99.2 231.6L100.3 231.5M101.3 229.9L102.3 230.4L103.2 231.0L104.2 231.0L105.1 231.6L106.0 230.7L106.8 230.7L107.7 230.7L108.5 231.6L109.2 231.1L110.0 230.3L111.6 230.1L113.0 231.6L114.2 231.6L115.4 231.4L116.4 231.4L117.3 230.8L118.1 230.0L118.9 229.8L119.5 230.4M120.4 231.8L120.7 231.8M123.2 256.7L123.3 256.7M132.2 336.8L132.3 336.9M141.1 374.9L141.6 375.3L142.2 375.4M143.6 377.8L144.5 378.3L145.4 378.4L146.4 379.5L147.5 379.9L148.7 379.2L150.0 379.7L150.9 380.4L151.8 381.0M152.7 382.5L153.7 382.2L154.8 381.7L155.8 382.2M157.9 385.1L159.0 384.6L160.0 384.7L161.0 385.3L162.0 385.9L163.0 387.0L164.0 386.4L165.0 386.8L166.0 387.2L167.0 387.3L168.0 387.2M169.0 388.6L170.0 388.4L171.0 388.2L172.0 388.0L173.0 388.5L174.0 389.7L175.0 390.4L176.0 390.7L177.0 391.2L178.0 391.1L179.0 391.0L180.0 391.6L181.0 391.8L181.9 391.8L182.9 392.6L183.8 393.2L184.7 392.9L185.7 392.8L186.7 393.9L187.7 394.7L188.8 394.0L190.0 394.0L190.8 394.5L191.6 394.9L192.4 394.0M193.1 395.0L193.9 395.8L194.7 395.4M195.5 396.5L196.4 396.3L197.3 395.9L198.3 396.0L199.4 395.5L200.6 396.4L201.8 397.7L203.2 397.2L204.7 398.1L205.5 397.8L206.2 397.9L207.1 397.2M207.9 396.1L208.8 396.8L209.7 397.4L210.6 396.8L211.5 396.8L212.5 397.7L213.5 397.3L214.5 396.7L215.5 397.5L216.6 398.4L217.6 398.2L218.7 399.0L219.7 399.4L220.8 398.4L221.9 397.5L223.0 397.4L224.1 398.4L225.2 399.1L226.3 399.1L227.4 399.0L228.5 398.6L229.6 398.8L230.7 398.5L231.8 398.3L232.8 397.8L233.9 397.7L234.9 398.2L236.0 398.1L237.0 398.4L238.0 399.3L239.0 399.8M240.0 401.1L241.0 400.3L242.1 399.3L243.1 399.8L244.1 399.6L245.1 399.3L246.1 399.8L247.1 398.6L248.1 397.7M249.1 399.3L250.2 399.7L251.2 400.2L252.2 399.3L253.2 399.1L254.2 400.2L255.2 399.4L256.2 399.9L257.2 400.7L258.3 400.1L259.3 399.8L260.3 400.0L261.3 400.2L262.3 399.7L263.3 400.2L264.3 400.8L265.3 401.4M266.4 400.0L267.4 399.5L268.4 400.2L269.4 400.0L270.4 400.1L271.4 400.4L272.3 400.6L273.2 399.9L274.1 399.4L275.0 398.4L275.9 399.4M276.7 400.7L277.6 399.9L278.4 399.3L279.3 399.4L280.1 400.3L281.0 400.2L281.8 399.6L282.7 400.4L283.6 400.6L284.5 400.6L285.4 400.3L286.3 401.2L287.3 400.8L288.3 400.1L289.3 399.9L290.3 400.2L291.4 400.7L292.6 400.5L293.7 401.0L294.9 401.1L296.2 401.4L297.5 401.0L298.9 400.0L300.3 399.2L301.8 400.3L302.6 400.9L303.3 400.7L304.1 400.6L304.9 400.1L305.7 399.8L306.5 400.0M307.4 401.0L308.2 400.6L309.1 399.8L309.9 399.4L310.8 400.3L311.7 401.3L312.5 400.8L313.4 400.3L314.3 401.4L315.3 401.7L316.2 401.4L317.1 401.3L318.1 401.3L319.0 401.1L320.0 400.8L320.9 400.4L321.9 401.2L322.9 401.2L323.9 401.3M324.9 399.7L325.9 400.6L326.9 401.1L327.9 400.5L328.9 400.8L329.9 401.1L331.0 400.8L332.0 400.2L333.0 400.4L334.1 401.3L335.2 401.4L336.2 400.8L337.3 400.6L338.4 400.8L339.4 400.9L340.5 399.8L341.6 399.5L342.7 400.1L343.8 399.7L344.9 399.9L346.0 400.5L347.1 400.6L348.2 400.1L349.4 400.4L350.5 399.7L351.6 400.1L352.7 399.4L353.9 399.5L355.0 400.5L356.2 400.2L357.3 399.8L358.4 400.2L359.6 400.7L360.7 400.6L361.9 400.7L363.0 401.0L364.2 400.2L365.3 400.0L366.5 400.3L367.4 401.3L368.3 401.6L369.2 401.5L370.1 400.7L370.9 400.6L371.8 400.9L372.7 400.6L373.6 401.1L374.5 401.0L375.4 400.2L376.3 400.3L377.1 400.7M378.0 402.0L378.9 402.4M379.8 400.9L380.7 400.0L381.6 399.2L382.5 400.1L383.4 400.3L384.2 400.0L385.1 400.4L386.0 399.6L386.9 400.1L387.8 400.3L388.7 399.9L389.6 400.9L390.5 401.0M391.4 399.6L392.4 399.5L393.3 400.5L394.2 400.3L395.1 399.7L396.0 400.0L397.0 400.3L397.9 400.5L398.8 401.0L399.8 401.2L400.7 401.8L401.7 401.7L402.6 401.3L403.6 401.5L404.5 401.6L405.5 400.9L406.5 400.0L407.4 400.7L408.4 400.9L409.4 401.4L410.4 400.9L411.4 400.8L412.4 401.0L413.4 401.5L414.4 400.8L415.5 400.3L416.5 400.4L417.5 400.2L418.6 400.4L419.6 400.4L420.7 400.9L421.8 401.5L422.8 400.5L423.9 400.3L425.0 400.4L426.1 400.5L427.2 399.6L428.3 399.7L429.4 400.3L430.6 400.6L431.7 400.3L432.9 399.8L434.0 399.8L435.2 400.7L436.4 401.4L437.6 400.8L438.8 400.6L440.0 400.4L441.2 399.8L442.4 399.9L443.6 400.1L444.9 400.4L446.2 400.1L447.4 399.8L448.7 401.1L450.0 401.5L450.8 400.6L451.7 400.5L452.5 400.7L453.4 400.5L454.2 399.9L455.1 400.9L456.0 400.6L456.9 401.0L457.9 400.5L458.8 400.0L459.7 400.3L460.7 400.6L461.6 399.9L462.6 399.8L463.6 399.6L464.6 399.4M465.6 400.8L466.6 400.9L467.6 400.6L468.6 400.8L469.7 399.9L470.7 400.4L471.8 401.5L472.8 400.8M473.9 398.5L475.0 397.6M477.1 400.6L478.2 400.2L479.3 400.2L480.5 400.4L481.6 399.9L482.7 400.4L483.8 400.9L484.9 400.8L486.1 400.5L487.2 400.1L488.4 400.4L489.5 400.4L490.7 401.5L491.8 401.9M493.0 399.9L494.1 398.7L495.3 399.7L496.5 400.6L497.6 401.2L498.8 401.0L500.0 399.9L501.2 399.9L502.3 400.7L503.5 400.1L504.7 400.7L505.9 400.5L507.1 400.8L508.2 401.0L509.4 401.1L510.6 400.7L511.8 399.9L513.0 400.3L514.2 400.4L515.3 400.7L516.5 401.0L517.7 400.2L518.9 399.7L520.0 399.6L521.2 400.1L522.4 400.5L523.6 400.2L524.7 400.9L525.9 400.6L527.0 399.9L528.2 399.5L529.3 400.3L530.5 400.4L531.6 399.6M532.8 401.0L533.9 401.6L535.0 400.9L536.2 401.1L537.3 402.1L538.4 401.3M539.5 400.0L540.6 400.1L541.7 400.2L542.8 399.7L543.8 399.0L544.9 400.1L546.0 400.1L547.0 400.2L548.1 400.4L549.1 400.7L550.2 400.1L551.2 399.9L552.2 400.7L553.2 401.2L554.2 400.7L555.2 401.1L556.2 400.6L557.1 400.3L558.1 400.9L559.1 400.3L560.0 400.6L560.9 400.3L561.8 400.2L562.7 399.5L563.6 399.8L564.5 400.8L565.4 400.6L566.2 400.3L567.1 400.1L567.9 400.2L568.7 399.3L569.5 399.3L570.3 399.8L571.1 399.6L571.9 399.7L572.6 400.1L573.4 400.2L574.1 400.5M574.8 401.5L575.5 401.5L576.1 401.2M576.8 400.4L577.4 399.7L578.1 399.3L578.7 399.4L579.3 398.9M580.4 401.0L581.0 401.6L581.5 401.0" stroke="#b8d460" stroke-width="2.0" stroke-opacity="1.0"/>
<path d="M32.0 232.6L32.5 230.9M37.9 231.9L38.9 233.7M89.2 230.0L90.0 231.3M100.3 231.5L101.3 229.9M119.5 230.4L120.4 231.8M121.2 237.5L121.3 237.1M123.7 259.4L123.8 259.6M124.0 263.2L124.1 262.8M124.7 270.0L124.8 270.2M125.4 275.7L125.5 275.5M125.9 280.6L126.0 280.9M126.7 288.6L126.8 288.3L126.9 288.5M127.7 296.9L127.9 297.2M129.2 311.1L129.3 310.7M130.3 320.8L130.4 321.0M131.1 327.6L131.2 327.8M132.0 335.5L132.1 335.7M133.9 350.6L134.1 351.0M134.8 355.7L135.1 356.1L135.3 356.6M135.6 358.0L135.9 358.8M136.5 361.2L136.7 362.0L137.0 362.8L137.2 363.5L137.5 364.4L137.8 364.8M138.6 369.8L138.9 370.7L139.2 370.0M139.5 371.3L140.0 372.6L140.5 373.3L141.1 374.9M142.2 375.4L142.9 376.8L143.6 377.8M151.8 381.0L152.7 382.5M155.8 382.2L156.9 383.6L157.9 385.1M168.0 387.2L169.0 388.6M192.4 394.0L193.1 395.0M194.7 395.4L195.5 396.5M207.1 397.2L207.9 396.1M239.0 399.8L240.0 401.1M248.1 397.7L249.1 399.3M265.3 401.4L266.4 400.0M275.9 399.4L276.7 400.7M306.5 400.0L307.4 401.0M323.9 401.3L324.9 399.7M377.1 400.7L378.0 402.0M378.9 402.4L379.8 400.9M390.5 401.0L391.4 399.6M464.6 399.4L465.6 400.8M472.8 400.8L473.9 398.5M475.0 397.6L476.1 399.2L477.1 400.6M491.8 401.9L493.0 399.9M531.6 399.6L532.8 401.0M538.4 401.3L539.5 400.0M574.1 400.5L574.8 401.5M576.1 401.2L576.8 400.4M579.3 398.9L579.9 399.7L580.4 401.0M581.5 401.0L582.0 400.1" stroke="#b8d460" stroke-width="1.3" stroke-opacity="0.85"/>
<path d="M120.7 231.8L120.8 233.0L121.0 235.7L121.1 236.8L121.2 237.5M121.3 237.1L121.4 237.7L121.5 239.7L121.6 241.6L121.7 242.4L121.9 242.9L122.0 243.6L122.1 244.8L122.2 245.9L122.3 247.2L122.4 247.8L122.6 249.1L122.7 250.4L122.8 251.9L122.9 253.4L123.1 255.7L123.2 256.7M123.3 256.7L123.4 255.8L123.5 257.0L123.6 258.3L123.7 259.4M123.8 259.6L123.9 262.0L124.0 263.2M124.1 262.8L124.2 263.6L124.4 264.9L124.5 266.6L124.6 268.4L124.7 270.0M124.8 270.2L124.9 271.2L125.0 272.4L125.1 274.1L125.2 274.9L125.4 275.7M125.5 275.5L125.6 276.5L125.7 277.8L125.8 279.9L125.9 280.6M126.0 280.9L126.1 281.8L126.2 283.1L126.3 283.5L126.4 284.4L126.6 286.6L126.7 288.6M126.9 288.5L127.0 289.0L127.1 290.2L127.2 292.3L127.3 293.7L127.4 294.4L127.5 295.4L127.6 296.3L127.7 296.9M127.9 297.2L128.0 298.6L128.1 299.9L128.2 300.6L128.3 301.5L128.4 302.4L128.5 303.8L128.6 305.4L128.7 305.9L128.8 307.1L129.0 308.8L129.1 310.1L129.2 311.1M129.3 310.7L129.4 312.5L129.6 313.5L129.7 314.8L129.8 316.5L129.9 317.8L130.0 318.7L130.2 319.5L130.3 320.8M130.4 321.0L130.5 321.9L130.6 323.2L130.7 324.0L130.8 326.1L130.9 327.0L131.0 327.9L131.1 327.6M131.2 327.8L131.4 329.6L131.5 331.0L131.6 331.6L131.8 332.9L131.9 334.2L132.0 335.5M132.1 335.7L132.2 336.8M132.3 336.9L132.4 337.3L132.5 338.2L132.6 339.2L132.7 341.1L132.9 342.9L133.0 343.7L133.1 345.1L133.2 346.7L133.4 347.1L133.5 347.8L133.6 348.3L133.8 348.9L133.9 350.6M134.1 351.0L134.3 353.0L134.6 354.4L134.8 355.7M135.3 356.6L135.6 358.0M135.9 358.8L136.2 359.9L136.5 361.2M137.8 364.8L138.0 366.4L138.3 367.6L138.6 369.8M139.2 370.0L139.5 371.3" stroke="#b8d460" stroke-width="1.2" stroke-opacity="0.9"/>
</g>
<!-- ch1 ground marker -->
<rect x="8.0" y="399.3" width="23.4" height="15.5" fill="#f4f400"/>
<text x="15.4" y="412.8" font-size="12.5" fill="#4a4400">1</text>
<path d="M25.8 404.4L31 407.2L25.8 410.0Z" fill="#111"/>
<!-- trigger level marker right -->
<rect x="573" y="330" width="9.5" height="1.7" fill="#c068c0"/>
<path d="M567.6 330.9L571.2 327.2L574.2 328.6L574.2 333.2L571.2 334.6Z" fill="#e040e0"/>
<!-- labels -->
<g fill="#ffffff" font-family="Liberation Sans, Arial, sans-serif">
<text x="206.6" y="121.8" font-size="30" textLength="49" lengthAdjust="spacingAndGlyphs">Ic-1</text>
<text x="351.3" y="157.5" font-size="30" textLength="65.6" lengthAdjust="spacingAndGlyphs">Ic-26</text>
<text x="342.6" y="380.6" font-size="30" textLength="120" lengthAdjust="spacingAndGlyphs">V<tspan font-size="22">CE</tspan>-1, 26</text>
</g>
<!-- bottom status -->
<text transform="translate(32 477.5) scale(0.86 1)" x="0" y="0" font-size="11.5" fill="#c8d87a" font-weight="normal" stroke="#c8d87a" stroke-width="0.2" textLength="22.09" lengthAdjust="spacing" >Ch1</text>
<text transform="translate(76.3 477.5) scale(0.86 1)" x="0" y="0" font-size="11.5" fill="#c8d87a" font-weight="normal" stroke="#c8d87a" stroke-width="0.2" textLength="34.42" lengthAdjust="spacing" >20.0V</text>
<text transform="translate(32 490.2) scale(0.86 1)" x="0" y="0" font-size="11.5" fill="#c040c8" font-weight="normal" stroke="#c040c8" stroke-width="0.2" textLength="22.09" lengthAdjust="spacing" >Ch3</text>
<text transform="translate(77.7 490.2) scale(0.86 1)" x="0" y="0" font-size="11.5" fill="#c040c8" font-weight="normal" stroke="#c040c8" stroke-width="0.2" textLength="24.53" lengthAdjust="spacing" >1.0A</text>
<text transform="translate(197 477.5) scale(0.86 1)" x="0" y="0" font-size="11.5" fill="#48b8d4" font-weight="normal" stroke="#48b8d4" stroke-width="0.2" textLength="23.26" lengthAdjust="spacing" >Ch2</text>
<text transform="translate(241.7 477.5) scale(0.86 1)" x="0" y="0" font-size="11.5" fill="#48b8d4" font-weight="normal" stroke="#48b8d4" stroke-width="0.2" textLength="33.49" lengthAdjust="spacing" >20.0V</text>
<text transform="translate(197 490.2) scale(0.86 1)" x="0" y="0" font-size="11.5" fill="#40c040" font-weight="normal" stroke="#40c040" stroke-width="0.2" textLength="22.67" lengthAdjust="spacing" >Ch4</text>
<text transform="translate(243 490.2) scale(0.86 1)" x="0" y="0" font-size="11.5" fill="#40c040" font-weight="normal" stroke="#40c040" stroke-width="0.2" textLength="25.58" lengthAdjust="spacing" >1.0A</text>
<text x="122.7" y="489.8" font-size="12" fill="#c040c8">Ω</text>
<text x="288.7" y="489.8" font-size="12" fill="#40c040">Ω</text>
<g font-size="8.5" font-weight="bold">
<text x="140.4" y="475" fill="#c8d87a">B<tspan font-size="10" dy="2.4" font-weight="normal">w</tspan></text>
<text x="140.4" y="487.8" fill="#c040c8">B<tspan font-size="10" dy="2.4" font-weight="normal">w</tspan></text>
<text x="305.2" y="475" fill="#48b8d4">B<tspan font-size="10" dy="2.4" font-weight="normal">w</tspan></text>
<text x="305.2" y="487.8" fill="#40c040">B<tspan font-size="10" dy="2.4" font-weight="normal">w</tspan></text>
</g>
<text transform="translate(362.5 477.2) scale(0.86 1)" x="0" y="0" font-size="11.5" fill="#d8d8d8" font-weight="normal" stroke="#d8d8d8" stroke-width="0.2" textLength="112.67" lengthAdjust="spacing" >M 80.0ns 625MS/s</text>
<text transform="translate(484.6 477.2) scale(0.86 1)" x="0" y="0" font-size="11.5" fill="#d8d8d8" font-weight="normal" stroke="#d8d8d8" stroke-width="0.2" textLength="47.09" lengthAdjust="spacing" >1.6ns/pt</text>
<text transform="translate(361.9 489.8) scale(0.86 1)" x="0" y="0" font-size="11.5" fill="#d8d8d8" font-weight="normal" stroke="#d8d8d8" stroke-width="0.2" textLength="8.84" lengthAdjust="spacing" >A</text>
<text transform="translate(375.8 489.8) scale(0.86 1)" x="0" y="0" font-size="11.5" fill="#a030b0" font-weight="normal" stroke="#a030b0" stroke-width="0.2" textLength="22.79" lengthAdjust="spacing" >Ch3</text>
<path d="M405.5 489.5L410.5 483.5" stroke="#d8d8d8" stroke-width="1.2"/>
<text transform="translate(420.1 489.8) scale(0.86 1)" x="0" y="0" font-size="11.5" fill="#d8d8d8" font-weight="normal" stroke="#d8d8d8" stroke-width="0.2" textLength="32.44" lengthAdjust="spacing" >1.38A</text>
</svg>
</body></html>
